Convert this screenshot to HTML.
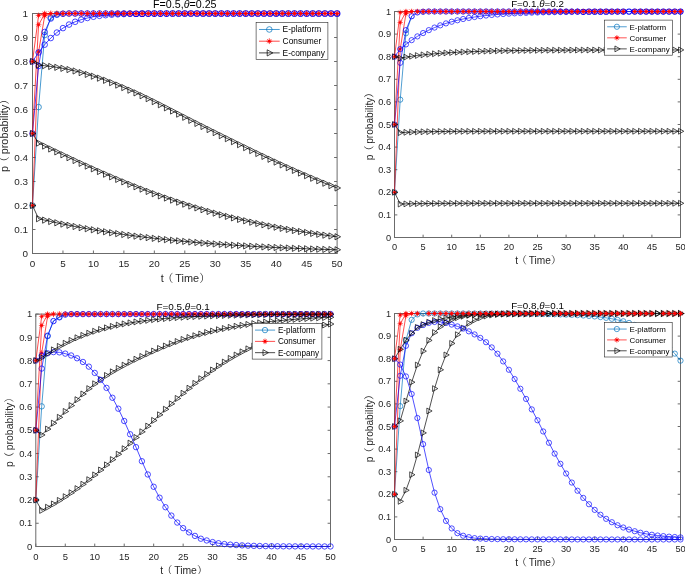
<!DOCTYPE html>
<html lang="en"><head><meta charset="utf-8"><title>Evolution figure</title>
<style>html,body{margin:0;padding:0;background:#fff}body{width:685px;height:574px;overflow:hidden}</style>
</head><body>
<svg width="685" height="574" viewBox="0 0 685 574" font-family='"Liberation Sans", "Noto Serif CJK SC", sans-serif' style="display:block;will-change:transform">
<rect width="685" height="574" fill="#fff"/>
<g fill="none" stroke="#6b6b6b" stroke-width="1">
<rect x="32.5" y="13.5" width="304.6" height="240"/>
<path d="M32.5 253.5v-3.0M32.5 13.5v3.0M62.96 253.5v-3.0M62.96 13.5v3.0M93.42 253.5v-3.0M93.42 13.5v3.0M123.88 253.5v-3.0M123.88 13.5v3.0M154.34 253.5v-3.0M154.34 13.5v3.0M184.8 253.5v-3.0M184.8 13.5v3.0M215.26 253.5v-3.0M215.26 13.5v3.0M245.72 253.5v-3.0M245.72 13.5v3.0M276.18 253.5v-3.0M276.18 13.5v3.0M306.64 253.5v-3.0M306.64 13.5v3.0M337.1 253.5v-3.0M337.1 13.5v3.0M32.5 253.5h3.0M337.1 253.5h-3.0M32.5 229.5h3.0M337.1 229.5h-3.0M32.5 205.5h3.0M337.1 205.5h-3.0M32.5 181.5h3.0M337.1 181.5h-3.0M32.5 157.5h3.0M337.1 157.5h-3.0M32.5 133.5h3.0M337.1 133.5h-3.0M32.5 109.5h3.0M337.1 109.5h-3.0M32.5 85.5h3.0M337.1 85.5h-3.0M32.5 61.5h3.0M337.1 61.5h-3.0M32.5 37.5h3.0M337.1 37.5h-3.0M32.5 13.5h3.0M337.1 13.5h-3.0"/>
</g>
<g font-size="9.9" fill="#262626">
<g text-anchor="middle">
<text x="32.5" y="267.3">0</text>
<text x="62.96" y="267.3">5</text>
<text x="93.42" y="267.3">10</text>
<text x="123.88" y="267.3">15</text>
<text x="154.34" y="267.3">20</text>
<text x="184.8" y="267.3">25</text>
<text x="215.26" y="267.3">30</text>
<text x="245.72" y="267.3">35</text>
<text x="276.18" y="267.3">40</text>
<text x="306.64" y="267.3">45</text>
<text x="337.1" y="267.3">50</text>
</g><g text-anchor="end">
<text x="28.1" y="256.8">0</text>
<text x="28.1" y="232.8">0.1</text>
<text x="28.1" y="208.8">0.2</text>
<text x="28.1" y="184.8">0.3</text>
<text x="28.1" y="160.8">0.4</text>
<text x="28.1" y="136.8">0.5</text>
<text x="28.1" y="112.8">0.6</text>
<text x="28.1" y="88.8">0.7</text>
<text x="28.1" y="64.8">0.8</text>
<text x="28.1" y="40.8">0.9</text>
<text x="28.1" y="16.8">1</text>
</g></g>
<g font-size="10.9" fill="#262626" text-anchor="middle">
<text x="185.4" y="282">t<tspan dx="-1.2">（</tspan><tspan dx="1.9">Time）</tspan></text>
<text transform="translate(8.4 132.9) rotate(-90)">p<tspan dx="-1.2">（</tspan><tspan dx="1.9">probability）</tspan></text>
</g>
<text x="184.8"  y="8.4" font-size="10.7" fill="#000" text-anchor="middle">F=0.5,<tspan font-style="italic">θ</tspan>=0.25</text>
<g fill="none" stroke="#0072bd"><path stroke-width="0.72" d="M32.5 205.5L38.59 107.1L44.68 35.1L50.78 17.58L56.87 14.22L62.96 13.5"/>
<g stroke-width="0.72"><circle cx="32.5" cy="205.5" r="2.8"/><circle cx="38.59" cy="107.1" r="2.8"/><circle cx="44.68" cy="35.1" r="2.8"/><circle cx="50.78" cy="17.58" r="2.8"/><circle cx="56.87" cy="14.22" r="2.8"/></g>
</g>
<g fill="none" stroke="#ff0000"><path stroke-width="0.72" d="M32.5 205.5L38.59 51.9L44.68 15.9L50.78 13.74"/>
<g stroke-width="0.58"><path d="M29.6 205.5H35.4M32.5 202.6V208.4M30.45 203.45L34.55 207.55M30.45 207.55L34.55 203.45"/><circle cx="32.5" cy="205.5" r="1.3" fill="#ff0000" stroke="none"/><path d="M35.69 51.9H41.49M38.59 49V54.8M36.54 49.85L40.64 53.95M36.54 53.95L40.64 49.85"/><circle cx="38.59" cy="51.9" r="1.3" fill="#ff0000" stroke="none"/><path d="M41.78 15.9H47.58M44.68 13V18.8M42.63 13.85L46.73 17.95M42.63 17.95L46.73 13.85"/><circle cx="44.68" cy="15.9" r="1.3" fill="#ff0000" stroke="none"/></g>
</g>
<g fill="none" stroke="#000000"><path stroke-width="0.72" d="M32.5 205.5L38.59 218.7L44.68 220.12L50.78 221.49L56.87 222.81L62.96 224.09L69.05 225.31L75.14 226.5L81.24 227.64L87.33 228.74L93.42 229.79L99.51 230.81L105.6 231.79L111.7 232.73L117.79 233.63L123.88 234.5L129.97 235.33L136.06 236.13L142.16 236.89L148.25 237.63L154.34 238.33L160.43 239.01L166.52 239.65L172.62 240.27L178.71 240.86L184.8 241.43L190.89 241.98L196.98 242.5L203.08 243L209.17 243.47L215.26 243.93L221.35 244.36L227.44 244.78L233.54 245.18L239.63 245.56L245.72 245.92L251.81 246.27L257.9 246.6L264 246.92L270.09 247.23L276.18 247.52L282.27 247.79L288.36 248.06L294.46 248.31L300.55 248.55L306.64 248.78L312.73 249L318.82 249.21L324.92 249.41L331.01 249.6L337.1 249.78"/>
<g stroke-width="0.72"><path d="M30.4 202.4L36 205.5L30.4 208.6Z"/><path d="M36.49 215.6L42.09 218.7L36.49 221.8Z"/><path d="M42.58 217.02L48.18 220.12L42.58 223.22Z"/><path d="M48.68 218.39L54.28 221.49L48.68 224.59Z"/><path d="M54.77 219.71L60.37 222.81L54.77 225.91Z"/><path d="M60.86 220.99L66.46 224.09L60.86 227.19Z"/><path d="M66.95 222.21L72.55 225.31L66.95 228.41Z"/><path d="M73.04 223.4L78.64 226.5L73.04 229.6Z"/><path d="M79.14 224.54L84.74 227.64L79.14 230.74Z"/><path d="M85.23 225.64L90.83 228.74L85.23 231.84Z"/><path d="M91.32 226.69L96.92 229.79L91.32 232.89Z"/><path d="M97.41 227.71L103.01 230.81L97.41 233.91Z"/><path d="M103.5 228.69L109.1 231.79L103.5 234.89Z"/><path d="M109.6 229.63L115.2 232.73L109.6 235.83Z"/><path d="M115.69 230.53L121.29 233.63L115.69 236.73Z"/><path d="M121.78 231.4L127.38 234.5L121.78 237.6Z"/><path d="M127.87 232.23L133.47 235.33L127.87 238.43Z"/><path d="M133.96 233.03L139.56 236.13L133.96 239.23Z"/><path d="M140.06 233.79L145.66 236.89L140.06 239.99Z"/><path d="M146.15 234.53L151.75 237.63L146.15 240.73Z"/><path d="M152.24 235.23L157.84 238.33L152.24 241.43Z"/><path d="M158.33 235.91L163.93 239.01L158.33 242.11Z"/><path d="M164.42 236.55L170.02 239.65L164.42 242.75Z"/><path d="M170.52 237.17L176.12 240.27L170.52 243.37Z"/><path d="M176.61 237.76L182.21 240.86L176.61 243.96Z"/><path d="M182.7 238.33L188.3 241.43L182.7 244.53Z"/><path d="M188.79 238.88L194.39 241.98L188.79 245.08Z"/><path d="M194.88 239.4L200.48 242.5L194.88 245.6Z"/><path d="M200.98 239.9L206.58 243L200.98 246.1Z"/><path d="M207.07 240.37L212.67 243.47L207.07 246.57Z"/><path d="M213.16 240.83L218.76 243.93L213.16 247.03Z"/><path d="M219.25 241.26L224.85 244.36L219.25 247.46Z"/><path d="M225.34 241.68L230.94 244.78L225.34 247.88Z"/><path d="M231.44 242.08L237.04 245.18L231.44 248.28Z"/><path d="M237.53 242.46L243.13 245.56L237.53 248.66Z"/><path d="M243.62 242.82L249.22 245.92L243.62 249.02Z"/><path d="M249.71 243.17L255.31 246.27L249.71 249.37Z"/><path d="M255.8 243.5L261.4 246.6L255.8 249.7Z"/><path d="M261.9 243.82L267.5 246.92L261.9 250.02Z"/><path d="M267.99 244.13L273.59 247.23L267.99 250.33Z"/><path d="M274.08 244.42L279.68 247.52L274.08 250.62Z"/><path d="M280.17 244.69L285.77 247.79L280.17 250.89Z"/><path d="M286.26 244.96L291.86 248.06L286.26 251.16Z"/><path d="M292.36 245.21L297.96 248.31L292.36 251.41Z"/><path d="M298.45 245.45L304.05 248.55L298.45 251.65Z"/><path d="M304.54 245.68L310.14 248.78L304.54 251.88Z"/><path d="M310.63 245.9L316.23 249L310.63 252.1Z"/><path d="M316.72 246.11L322.32 249.21L316.72 252.31Z"/><path d="M322.82 246.31L328.42 249.41L322.82 252.51Z"/><path d="M328.91 246.5L334.51 249.6L328.91 252.7Z"/><path d="M335 246.68L340.6 249.78L335 252.88Z"/></g>
</g>
<g fill="none" stroke="#0000ff"><path stroke-width="0.72" d="M32.5 133.5L38.59 66.06L44.68 31.98L50.78 18.54L56.87 14.7L62.96 13.74L69.05 13.5L75.14 13.5L81.24 13.5L87.33 13.5L93.42 13.5L99.51 13.5L105.6 13.5L111.7 13.5L117.79 13.5L123.88 13.5L129.97 13.5L136.06 13.5"/>
<g stroke-width="0.72"><circle cx="32.5" cy="133.5" r="2.8"/><circle cx="38.59" cy="66.06" r="2.8"/><circle cx="44.68" cy="31.98" r="2.8"/><circle cx="50.78" cy="18.54" r="2.8"/><circle cx="56.87" cy="14.7" r="2.8"/></g>
<g stroke-width="0.9"><circle cx="62.96" cy="13.74" r="2.8"/><circle cx="69.05" cy="13.5" r="2.8"/><circle cx="75.14" cy="13.5" r="2.8"/><circle cx="81.24" cy="13.5" r="2.8"/><circle cx="87.33" cy="13.5" r="2.8"/><circle cx="93.42" cy="13.5" r="2.8"/><circle cx="99.51" cy="13.5" r="2.8"/><circle cx="105.6" cy="13.5" r="2.8"/><circle cx="111.7" cy="13.5" r="2.8"/><circle cx="117.79" cy="13.5" r="2.8"/><circle cx="123.88" cy="13.5" r="2.8"/><circle cx="129.97" cy="13.5" r="2.8"/></g>
</g>
<g fill="none" stroke="#ff0000"><path stroke-width="0.72" d="M32.5 133.5L38.59 24.78L44.68 13.98L50.78 13.5"/>
<g stroke-width="0.58"><path d="M29.6 133.5H35.4M32.5 130.6V136.4M30.45 131.45L34.55 135.55M30.45 135.55L34.55 131.45"/><circle cx="32.5" cy="133.5" r="1.3" fill="#ff0000" stroke="none"/><path d="M35.69 24.78H41.49M38.59 21.88V27.68M36.54 22.73L40.64 26.83M36.54 26.83L40.64 22.73"/><circle cx="38.59" cy="24.78" r="1.3" fill="#ff0000" stroke="none"/><path d="M41.78 13.98H47.58M44.68 11.08V16.88M42.63 11.93L46.73 16.03M42.63 16.03L46.73 11.93"/><circle cx="44.68" cy="13.98" r="1.3" fill="#ff0000" stroke="none"/></g>
</g>
<g fill="none" stroke="#000000"><path stroke-width="0.72" d="M32.5 133.5L38.59 143.1L44.68 146.05L50.78 148.99L56.87 151.9L62.96 154.8L69.05 157.67L75.14 160.51L81.24 163.32L87.33 166.09L93.42 168.83L99.51 171.53L105.6 174.19L111.7 176.8L117.79 179.37L123.88 181.88L129.97 184.35L136.06 186.77L142.16 189.13L148.25 191.44L154.34 193.7L160.43 195.9L166.52 198.04L172.62 200.13L178.71 202.16L184.8 204.13L190.89 206.05L196.98 207.91L203.08 209.71L209.17 211.46L215.26 213.15L221.35 214.79L227.44 216.38L233.54 217.91L239.63 219.38L245.72 220.81L251.81 222.19L257.9 223.51L264 224.79L270.09 226.02L276.18 227.2L282.27 228.34L288.36 229.44L294.46 230.49L300.55 231.5L306.64 232.48L312.73 233.41L318.82 234.3L324.92 235.16L331.01 235.98L337.1 236.77"/>
<g stroke-width="0.72"><path d="M30.4 130.4L36 133.5L30.4 136.6Z"/><path d="M36.49 140L42.09 143.1L36.49 146.2Z"/><path d="M42.58 142.95L48.18 146.05L42.58 149.15Z"/><path d="M48.68 145.89L54.28 148.99L48.68 152.09Z"/><path d="M54.77 148.8L60.37 151.9L54.77 155Z"/><path d="M60.86 151.7L66.46 154.8L60.86 157.9Z"/><path d="M66.95 154.57L72.55 157.67L66.95 160.77Z"/><path d="M73.04 157.41L78.64 160.51L73.04 163.61Z"/><path d="M79.14 160.22L84.74 163.32L79.14 166.42Z"/><path d="M85.23 162.99L90.83 166.09L85.23 169.19Z"/><path d="M91.32 165.73L96.92 168.83L91.32 171.93Z"/><path d="M97.41 168.43L103.01 171.53L97.41 174.63Z"/><path d="M103.5 171.09L109.1 174.19L103.5 177.29Z"/><path d="M109.6 173.7L115.2 176.8L109.6 179.9Z"/><path d="M115.69 176.27L121.29 179.37L115.69 182.47Z"/><path d="M121.78 178.78L127.38 181.88L121.78 184.98Z"/><path d="M127.87 181.25L133.47 184.35L127.87 187.45Z"/><path d="M133.96 183.67L139.56 186.77L133.96 189.87Z"/><path d="M140.06 186.03L145.66 189.13L140.06 192.23Z"/><path d="M146.15 188.34L151.75 191.44L146.15 194.54Z"/><path d="M152.24 190.6L157.84 193.7L152.24 196.8Z"/><path d="M158.33 192.8L163.93 195.9L158.33 199Z"/><path d="M164.42 194.94L170.02 198.04L164.42 201.14Z"/><path d="M170.52 197.03L176.12 200.13L170.52 203.23Z"/><path d="M176.61 199.06L182.21 202.16L176.61 205.26Z"/><path d="M182.7 201.03L188.3 204.13L182.7 207.23Z"/><path d="M188.79 202.95L194.39 206.05L188.79 209.15Z"/><path d="M194.88 204.81L200.48 207.91L194.88 211.01Z"/><path d="M200.98 206.61L206.58 209.71L200.98 212.81Z"/><path d="M207.07 208.36L212.67 211.46L207.07 214.56Z"/><path d="M213.16 210.05L218.76 213.15L213.16 216.25Z"/><path d="M219.25 211.69L224.85 214.79L219.25 217.89Z"/><path d="M225.34 213.28L230.94 216.38L225.34 219.48Z"/><path d="M231.44 214.81L237.04 217.91L231.44 221.01Z"/><path d="M237.53 216.28L243.13 219.38L237.53 222.48Z"/><path d="M243.62 217.71L249.22 220.81L243.62 223.91Z"/><path d="M249.71 219.09L255.31 222.19L249.71 225.29Z"/><path d="M255.8 220.41L261.4 223.51L255.8 226.61Z"/><path d="M261.9 221.69L267.5 224.79L261.9 227.89Z"/><path d="M267.99 222.92L273.59 226.02L267.99 229.12Z"/><path d="M274.08 224.1L279.68 227.2L274.08 230.3Z"/><path d="M280.17 225.24L285.77 228.34L280.17 231.44Z"/><path d="M286.26 226.34L291.86 229.44L286.26 232.54Z"/><path d="M292.36 227.39L297.96 230.49L292.36 233.59Z"/><path d="M298.45 228.4L304.05 231.5L298.45 234.6Z"/><path d="M304.54 229.38L310.14 232.48L304.54 235.58Z"/><path d="M310.63 230.31L316.23 233.41L310.63 236.51Z"/><path d="M316.72 231.2L322.32 234.3L316.72 237.4Z"/><path d="M322.82 232.06L328.42 235.16L322.82 238.26Z"/><path d="M328.91 232.88L334.51 235.98L328.91 239.08Z"/><path d="M335 233.67L340.6 236.77L335 239.87Z"/></g>
</g>
<g fill="none" stroke="#0000ff"><path stroke-width="0.72" d="M32.5 61.5L38.59 52.49L44.68 44.67L50.78 38.05L56.87 32.57L62.96 28.11L69.05 24.56L75.14 21.78L81.24 19.63L87.33 17.99L93.42 16.76L99.51 15.84L105.6 15.17L111.7 14.68L117.79 14.32L123.88 14.07L129.97 13.89L136.06 13.77L142.16 13.68L148.25 13.62L154.34 13.58L160.43 13.55L166.52 13.54L172.62 13.52L178.71 13.51L184.8 13.51L190.89 13.51L196.98 13.5L203.08 13.5L209.17 13.5L215.26 13.5L221.35 13.5L227.44 13.5L233.54 13.5L239.63 13.5L245.72 13.5L251.81 13.5L257.9 13.5L264 13.5L270.09 13.5L276.18 13.5L282.27 13.5L288.36 13.5L294.46 13.5L300.55 13.5L306.64 13.5L312.73 13.5L318.82 13.5L324.92 13.5L331.01 13.5L337.1 13.5"/>
<g stroke-width="0.72"><circle cx="32.5" cy="61.5" r="2.8"/><circle cx="38.59" cy="52.49" r="2.8"/><circle cx="44.68" cy="44.67" r="2.8"/><circle cx="50.78" cy="38.05" r="2.8"/><circle cx="56.87" cy="32.57" r="2.8"/><circle cx="62.96" cy="28.11" r="2.8"/><circle cx="69.05" cy="24.56" r="2.8"/><circle cx="75.14" cy="21.78" r="2.8"/><circle cx="81.24" cy="19.63" r="2.8"/><circle cx="87.33" cy="17.99" r="2.8"/><circle cx="93.42" cy="16.76" r="2.8"/><circle cx="99.51" cy="15.84" r="2.8"/><circle cx="105.6" cy="15.17" r="2.8"/><circle cx="111.7" cy="14.68" r="2.8"/><circle cx="117.79" cy="14.32" r="2.8"/><circle cx="123.88" cy="14.07" r="2.8"/><circle cx="129.97" cy="13.89" r="2.8"/></g>
<g stroke-width="1.08"><circle cx="136.06" cy="13.77" r="2.8"/><circle cx="142.16" cy="13.68" r="2.8"/><circle cx="148.25" cy="13.62" r="2.8"/><circle cx="154.34" cy="13.58" r="2.8"/><circle cx="160.43" cy="13.55" r="2.8"/><circle cx="166.52" cy="13.54" r="2.8"/><circle cx="172.62" cy="13.52" r="2.8"/><circle cx="178.71" cy="13.51" r="2.8"/><circle cx="184.8" cy="13.51" r="2.8"/><circle cx="190.89" cy="13.51" r="2.8"/><circle cx="196.98" cy="13.5" r="2.8"/><circle cx="203.08" cy="13.5" r="2.8"/><circle cx="209.17" cy="13.5" r="2.8"/><circle cx="215.26" cy="13.5" r="2.8"/><circle cx="221.35" cy="13.5" r="2.8"/><circle cx="227.44" cy="13.5" r="2.8"/><circle cx="233.54" cy="13.5" r="2.8"/><circle cx="239.63" cy="13.5" r="2.8"/><circle cx="245.72" cy="13.5" r="2.8"/><circle cx="251.81" cy="13.5" r="2.8"/><circle cx="257.9" cy="13.5" r="2.8"/><circle cx="264" cy="13.5" r="2.8"/><circle cx="270.09" cy="13.5" r="2.8"/><circle cx="276.18" cy="13.5" r="2.8"/><circle cx="282.27" cy="13.5" r="2.8"/><circle cx="288.36" cy="13.5" r="2.8"/><circle cx="294.46" cy="13.5" r="2.8"/><circle cx="300.55" cy="13.5" r="2.8"/><circle cx="306.64" cy="13.5" r="2.8"/><circle cx="312.73" cy="13.5" r="2.8"/><circle cx="318.82" cy="13.5" r="2.8"/><circle cx="324.92" cy="13.5" r="2.8"/><circle cx="331.01" cy="13.5" r="2.8"/><circle cx="337.1" cy="13.5" r="2.8"/></g>
</g>
<g fill="none" stroke="#ff0000"><path stroke-width="0.72" d="M32.5 61.5L38.59 15.42L44.68 13.5"/>
<g stroke-width="0.58"><path d="M29.6 61.5H35.4M32.5 58.6V64.4M30.45 59.45L34.55 63.55M30.45 63.55L34.55 59.45"/><circle cx="32.5" cy="61.5" r="1.3" fill="#ff0000" stroke="none"/><path d="M35.69 15.42H41.49M38.59 12.52V18.32M36.54 13.37L40.64 17.47M36.54 17.47L40.64 13.37"/><circle cx="38.59" cy="15.42" r="1.3" fill="#ff0000" stroke="none"/><path d="M41.78 13.5H47.58M44.68 10.6V16.4M42.63 11.45L46.73 15.55M42.63 15.55L46.73 11.45"/><circle cx="44.68" cy="13.5" r="1.3" fill="#ff0000" stroke="none"/></g>
<g stroke-width="0.87"><path d="M47.88 13.5H53.68M50.78 10.6V16.4M48.73 11.45L52.83 15.55M48.73 15.55L52.83 11.45"/><circle cx="50.78" cy="13.5" r="1.3" fill="#ff0000" stroke="none"/><path d="M53.97 13.5H59.77M56.87 10.6V16.4M54.82 11.45L58.92 15.55M54.82 15.55L58.92 11.45"/><circle cx="56.87" cy="13.5" r="1.3" fill="#ff0000" stroke="none"/><path d="M60.06 13.5H65.86M62.96 10.6V16.4M60.91 11.45L65.01 15.55M60.91 15.55L65.01 11.45"/><circle cx="62.96" cy="13.5" r="1.3" fill="#ff0000" stroke="none"/><path d="M66.15 13.5H71.95M69.05 10.6V16.4M67 11.45L71.1 15.55M67 15.55L71.1 11.45"/><circle cx="69.05" cy="13.5" r="1.3" fill="#ff0000" stroke="none"/><path d="M72.24 13.5H78.04M75.14 10.6V16.4M73.09 11.45L77.19 15.55M73.09 15.55L77.19 11.45"/><circle cx="75.14" cy="13.5" r="1.3" fill="#ff0000" stroke="none"/><path d="M78.34 13.5H84.14M81.24 10.6V16.4M79.19 11.45L83.29 15.55M79.19 15.55L83.29 11.45"/><circle cx="81.24" cy="13.5" r="1.3" fill="#ff0000" stroke="none"/><path d="M84.43 13.5H90.23M87.33 10.6V16.4M85.28 11.45L89.38 15.55M85.28 15.55L89.38 11.45"/><circle cx="87.33" cy="13.5" r="1.3" fill="#ff0000" stroke="none"/><path d="M90.52 13.5H96.32M93.42 10.6V16.4M91.37 11.45L95.47 15.55M91.37 15.55L95.47 11.45"/><circle cx="93.42" cy="13.5" r="1.3" fill="#ff0000" stroke="none"/><path d="M96.61 13.5H102.41M99.51 10.6V16.4M97.46 11.45L101.56 15.55M97.46 15.55L101.56 11.45"/><circle cx="99.51" cy="13.5" r="1.3" fill="#ff0000" stroke="none"/><path d="M102.7 13.5H108.5M105.6 10.6V16.4M103.55 11.45L107.65 15.55M103.55 15.55L107.65 11.45"/><circle cx="105.6" cy="13.5" r="1.3" fill="#ff0000" stroke="none"/><path d="M108.8 13.5H114.6M111.7 10.6V16.4M109.65 11.45L113.75 15.55M109.65 15.55L113.75 11.45"/><circle cx="111.7" cy="13.5" r="1.3" fill="#ff0000" stroke="none"/><path d="M114.89 13.5H120.69M117.79 10.6V16.4M115.74 11.45L119.84 15.55M115.74 15.55L119.84 11.45"/><circle cx="117.79" cy="13.5" r="1.3" fill="#ff0000" stroke="none"/><path d="M120.98 13.5H126.78M123.88 10.6V16.4M121.83 11.45L125.93 15.55M121.83 15.55L125.93 11.45"/><circle cx="123.88" cy="13.5" r="1.3" fill="#ff0000" stroke="none"/><path d="M127.07 13.5H132.87M129.97 10.6V16.4M127.92 11.45L132.02 15.55M127.92 15.55L132.02 11.45"/><circle cx="129.97" cy="13.5" r="1.3" fill="#ff0000" stroke="none"/><path d="M133.16 13.5H138.96M136.06 10.6V16.4M134.01 11.45L138.11 15.55M134.01 15.55L138.11 11.45"/><circle cx="136.06" cy="13.5" r="1.3" fill="#ff0000" stroke="none"/><path d="M139.26 13.5H145.06M142.16 10.6V16.4M140.11 11.45L144.21 15.55M140.11 15.55L144.21 11.45"/><circle cx="142.16" cy="13.5" r="1.3" fill="#ff0000" stroke="none"/><path d="M145.35 13.5H151.15M148.25 10.6V16.4M146.2 11.45L150.3 15.55M146.2 15.55L150.3 11.45"/><circle cx="148.25" cy="13.5" r="1.3" fill="#ff0000" stroke="none"/><path d="M151.44 13.5H157.24M154.34 10.6V16.4M152.29 11.45L156.39 15.55M152.29 15.55L156.39 11.45"/><circle cx="154.34" cy="13.5" r="1.3" fill="#ff0000" stroke="none"/><path d="M157.53 13.5H163.33M160.43 10.6V16.4M158.38 11.45L162.48 15.55M158.38 15.55L162.48 11.45"/><circle cx="160.43" cy="13.5" r="1.3" fill="#ff0000" stroke="none"/><path d="M163.62 13.5H169.42M166.52 10.6V16.4M164.47 11.45L168.57 15.55M164.47 15.55L168.57 11.45"/><circle cx="166.52" cy="13.5" r="1.3" fill="#ff0000" stroke="none"/><path d="M169.72 13.5H175.52M172.62 10.6V16.4M170.57 11.45L174.67 15.55M170.57 15.55L174.67 11.45"/><circle cx="172.62" cy="13.5" r="1.3" fill="#ff0000" stroke="none"/><path d="M175.81 13.5H181.61M178.71 10.6V16.4M176.66 11.45L180.76 15.55M176.66 15.55L180.76 11.45"/><circle cx="178.71" cy="13.5" r="1.3" fill="#ff0000" stroke="none"/><path d="M181.9 13.5H187.7M184.8 10.6V16.4M182.75 11.45L186.85 15.55M182.75 15.55L186.85 11.45"/><circle cx="184.8" cy="13.5" r="1.3" fill="#ff0000" stroke="none"/><path d="M187.99 13.5H193.79M190.89 10.6V16.4M188.84 11.45L192.94 15.55M188.84 15.55L192.94 11.45"/><circle cx="190.89" cy="13.5" r="1.3" fill="#ff0000" stroke="none"/><path d="M194.08 13.5H199.88M196.98 10.6V16.4M194.93 11.45L199.03 15.55M194.93 15.55L199.03 11.45"/><circle cx="196.98" cy="13.5" r="1.3" fill="#ff0000" stroke="none"/><path d="M200.18 13.5H205.98M203.08 10.6V16.4M201.03 11.45L205.13 15.55M201.03 15.55L205.13 11.45"/><circle cx="203.08" cy="13.5" r="1.3" fill="#ff0000" stroke="none"/><path d="M206.27 13.5H212.07M209.17 10.6V16.4M207.12 11.45L211.22 15.55M207.12 15.55L211.22 11.45"/><circle cx="209.17" cy="13.5" r="1.3" fill="#ff0000" stroke="none"/><path d="M212.36 13.5H218.16M215.26 10.6V16.4M213.21 11.45L217.31 15.55M213.21 15.55L217.31 11.45"/><circle cx="215.26" cy="13.5" r="1.3" fill="#ff0000" stroke="none"/><path d="M218.45 13.5H224.25M221.35 10.6V16.4M219.3 11.45L223.4 15.55M219.3 15.55L223.4 11.45"/><circle cx="221.35" cy="13.5" r="1.3" fill="#ff0000" stroke="none"/><path d="M224.54 13.5H230.34M227.44 10.6V16.4M225.39 11.45L229.49 15.55M225.39 15.55L229.49 11.45"/><circle cx="227.44" cy="13.5" r="1.3" fill="#ff0000" stroke="none"/><path d="M230.64 13.5H236.44M233.54 10.6V16.4M231.49 11.45L235.59 15.55M231.49 15.55L235.59 11.45"/><circle cx="233.54" cy="13.5" r="1.3" fill="#ff0000" stroke="none"/><path d="M236.73 13.5H242.53M239.63 10.6V16.4M237.58 11.45L241.68 15.55M237.58 15.55L241.68 11.45"/><circle cx="239.63" cy="13.5" r="1.3" fill="#ff0000" stroke="none"/><path d="M242.82 13.5H248.62M245.72 10.6V16.4M243.67 11.45L247.77 15.55M243.67 15.55L247.77 11.45"/><circle cx="245.72" cy="13.5" r="1.3" fill="#ff0000" stroke="none"/><path d="M248.91 13.5H254.71M251.81 10.6V16.4M249.76 11.45L253.86 15.55M249.76 15.55L253.86 11.45"/><circle cx="251.81" cy="13.5" r="1.3" fill="#ff0000" stroke="none"/><path d="M255 13.5H260.8M257.9 10.6V16.4M255.85 11.45L259.95 15.55M255.85 15.55L259.95 11.45"/><circle cx="257.9" cy="13.5" r="1.3" fill="#ff0000" stroke="none"/><path d="M261.1 13.5H266.9M264 10.6V16.4M261.95 11.45L266.05 15.55M261.95 15.55L266.05 11.45"/><circle cx="264" cy="13.5" r="1.3" fill="#ff0000" stroke="none"/><path d="M267.19 13.5H272.99M270.09 10.6V16.4M268.04 11.45L272.14 15.55M268.04 15.55L272.14 11.45"/><circle cx="270.09" cy="13.5" r="1.3" fill="#ff0000" stroke="none"/><path d="M273.28 13.5H279.08M276.18 10.6V16.4M274.13 11.45L278.23 15.55M274.13 15.55L278.23 11.45"/><circle cx="276.18" cy="13.5" r="1.3" fill="#ff0000" stroke="none"/><path d="M279.37 13.5H285.17M282.27 10.6V16.4M280.22 11.45L284.32 15.55M280.22 15.55L284.32 11.45"/><circle cx="282.27" cy="13.5" r="1.3" fill="#ff0000" stroke="none"/><path d="M285.46 13.5H291.26M288.36 10.6V16.4M286.31 11.45L290.41 15.55M286.31 15.55L290.41 11.45"/><circle cx="288.36" cy="13.5" r="1.3" fill="#ff0000" stroke="none"/><path d="M291.56 13.5H297.36M294.46 10.6V16.4M292.41 11.45L296.51 15.55M292.41 15.55L296.51 11.45"/><circle cx="294.46" cy="13.5" r="1.3" fill="#ff0000" stroke="none"/><path d="M297.65 13.5H303.45M300.55 10.6V16.4M298.5 11.45L302.6 15.55M298.5 15.55L302.6 11.45"/><circle cx="300.55" cy="13.5" r="1.3" fill="#ff0000" stroke="none"/><path d="M303.74 13.5H309.54M306.64 10.6V16.4M304.59 11.45L308.69 15.55M304.59 15.55L308.69 11.45"/><circle cx="306.64" cy="13.5" r="1.3" fill="#ff0000" stroke="none"/><path d="M309.83 13.5H315.63M312.73 10.6V16.4M310.68 11.45L314.78 15.55M310.68 15.55L314.78 11.45"/><circle cx="312.73" cy="13.5" r="1.3" fill="#ff0000" stroke="none"/><path d="M315.92 13.5H321.72M318.82 10.6V16.4M316.77 11.45L320.87 15.55M316.77 15.55L320.87 11.45"/><circle cx="318.82" cy="13.5" r="1.3" fill="#ff0000" stroke="none"/><path d="M322.02 13.5H327.82M324.92 10.6V16.4M322.87 11.45L326.97 15.55M322.87 15.55L326.97 11.45"/><circle cx="324.92" cy="13.5" r="1.3" fill="#ff0000" stroke="none"/><path d="M328.11 13.5H333.91M331.01 10.6V16.4M328.96 11.45L333.06 15.55M328.96 15.55L333.06 11.45"/><circle cx="331.01" cy="13.5" r="1.3" fill="#ff0000" stroke="none"/><path d="M334.2 13.5H340M337.1 10.6V16.4M335.05 11.45L339.15 15.55M335.05 15.55L339.15 11.45"/><circle cx="337.1" cy="13.5" r="1.3" fill="#ff0000" stroke="none"/></g>
</g>
<g fill="none" stroke="#000000"><path stroke-width="0.72" d="M32.5 61.5L38.59 65.1L44.68 65.7L50.78 66.46L56.87 67.35L62.96 68.36L69.05 69.56L75.14 70.99L81.24 72.61L87.33 74.37L93.42 76.21L99.51 78.18L105.6 80.34L111.7 82.65L117.79 85.08L123.88 87.59L129.97 90.18L136.06 92.9L142.16 95.72L148.25 98.65L154.34 101.65L160.43 104.72L166.52 107.84L172.62 110.98L178.71 114.12L184.8 117.25L190.89 120.35L196.98 123.42L203.08 126.48L209.17 129.54L215.26 132.59L221.35 135.62L227.44 138.64L233.54 141.65L239.63 144.64L245.72 147.61L251.81 150.56L257.9 153.49L264 156.39L270.09 159.26L276.18 162.1L282.27 164.9L288.36 167.65L294.46 170.37L300.55 173.04L306.64 175.66L312.73 178.23L318.82 180.75L324.92 183.21L331.01 185.62L337.1 187.98"/>
<g stroke-width="0.72"><path d="M30.4 58.4L36 61.5L30.4 64.6Z"/><path d="M36.49 62L42.09 65.1L36.49 68.2Z"/><path d="M42.58 62.6L48.18 65.7L42.58 68.8Z"/><path d="M48.68 63.36L54.28 66.46L48.68 69.56Z"/><path d="M54.77 64.25L60.37 67.35L54.77 70.45Z"/><path d="M60.86 65.26L66.46 68.36L60.86 71.46Z"/><path d="M66.95 66.46L72.55 69.56L66.95 72.66Z"/><path d="M73.04 67.89L78.64 70.99L73.04 74.09Z"/><path d="M79.14 69.51L84.74 72.61L79.14 75.71Z"/><path d="M85.23 71.27L90.83 74.37L85.23 77.47Z"/><path d="M91.32 73.11L96.92 76.21L91.32 79.31Z"/><path d="M97.41 75.08L103.01 78.18L97.41 81.28Z"/><path d="M103.5 77.24L109.1 80.34L103.5 83.44Z"/><path d="M109.6 79.55L115.2 82.65L109.6 85.75Z"/><path d="M115.69 81.98L121.29 85.08L115.69 88.18Z"/><path d="M121.78 84.49L127.38 87.59L121.78 90.69Z"/><path d="M127.87 87.08L133.47 90.18L127.87 93.28Z"/><path d="M133.96 89.8L139.56 92.9L133.96 96Z"/><path d="M140.06 92.62L145.66 95.72L140.06 98.82Z"/><path d="M146.15 95.55L151.75 98.65L146.15 101.75Z"/><path d="M152.24 98.55L157.84 101.65L152.24 104.75Z"/><path d="M158.33 101.62L163.93 104.72L158.33 107.82Z"/><path d="M164.42 104.74L170.02 107.84L164.42 110.94Z"/><path d="M170.52 107.88L176.12 110.98L170.52 114.08Z"/><path d="M176.61 111.02L182.21 114.12L176.61 117.22Z"/><path d="M182.7 114.15L188.3 117.25L182.7 120.35Z"/><path d="M188.79 117.25L194.39 120.35L188.79 123.45Z"/><path d="M194.88 120.32L200.48 123.42L194.88 126.52Z"/><path d="M200.98 123.38L206.58 126.48L200.98 129.58Z"/><path d="M207.07 126.44L212.67 129.54L207.07 132.64Z"/><path d="M213.16 129.49L218.76 132.59L213.16 135.69Z"/><path d="M219.25 132.52L224.85 135.62L219.25 138.72Z"/><path d="M225.34 135.54L230.94 138.64L225.34 141.74Z"/><path d="M231.44 138.55L237.04 141.65L231.44 144.75Z"/><path d="M237.53 141.54L243.13 144.64L237.53 147.74Z"/><path d="M243.62 144.51L249.22 147.61L243.62 150.71Z"/><path d="M249.71 147.46L255.31 150.56L249.71 153.66Z"/><path d="M255.8 150.39L261.4 153.49L255.8 156.59Z"/><path d="M261.9 153.29L267.5 156.39L261.9 159.49Z"/><path d="M267.99 156.16L273.59 159.26L267.99 162.36Z"/><path d="M274.08 159L279.68 162.1L274.08 165.2Z"/><path d="M280.17 161.8L285.77 164.9L280.17 168Z"/><path d="M286.26 164.55L291.86 167.65L286.26 170.75Z"/><path d="M292.36 167.27L297.96 170.37L292.36 173.47Z"/><path d="M298.45 169.94L304.05 173.04L298.45 176.14Z"/><path d="M304.54 172.56L310.14 175.66L304.54 178.76Z"/><path d="M310.63 175.13L316.23 178.23L310.63 181.33Z"/><path d="M316.72 177.65L322.32 180.75L316.72 183.85Z"/><path d="M322.82 180.11L328.42 183.21L322.82 186.31Z"/><path d="M328.91 182.52L334.51 185.62L328.91 188.72Z"/><path d="M335 184.88L340.6 187.98L335 191.08Z"/></g>
</g>
<rect x="256.1" y="22.4" width="71.8" height="37.2" fill="#fff" stroke="#262626" stroke-width="0.6"/>
<g fill="none" stroke="#0072bd" stroke-width="0.72"><path d="M259 29.47H279.7"/><circle cx="269.3" cy="29.47" r="2.8"/></g>
<text x="282.6" y="32.47" font-size="8.4" fill="#000">E-platform</text>
<g fill="none" stroke="#ff0000" stroke-width="0.72"><path d="M259 41.19H279.7"/><path d="M266.4 41.19H272.2M269.3 38.29V44.09M267.25 39.14L271.35 43.24M267.25 43.24L271.35 39.14"/><circle cx="269.3" cy="41.19" r="1.3" fill="#ff0000" stroke="none"/></g>
<text x="282.6" y="44.19" font-size="8.4" fill="#000">Consumer</text>
<g fill="none" stroke="#000000" stroke-width="0.72"><path d="M259 52.9H279.7"/><path d="M267.2 49.8L272.8 52.9L267.2 56Z"/></g>
<text x="282.6" y="55.9" font-size="8.4" fill="#000">E-company</text>
<g fill="none" stroke="#6b6b6b" stroke-width="1">
<rect x="394.5" y="11.5" width="286" height="226"/>
<path d="M394.5 237.5v-2.82M394.5 11.5v2.82M423.1 237.5v-2.82M423.1 11.5v2.82M451.7 237.5v-2.82M451.7 11.5v2.82M480.3 237.5v-2.82M480.3 11.5v2.82M508.9 237.5v-2.82M508.9 11.5v2.82M537.5 237.5v-2.82M537.5 11.5v2.82M566.1 237.5v-2.82M566.1 11.5v2.82M594.7 237.5v-2.82M594.7 11.5v2.82M623.3 237.5v-2.82M623.3 11.5v2.82M651.9 237.5v-2.82M651.9 11.5v2.82M680.5 237.5v-2.82M680.5 11.5v2.82M394.5 237.5h2.82M680.5 237.5h-2.82M394.5 214.9h2.82M680.5 214.9h-2.82M394.5 192.3h2.82M680.5 192.3h-2.82M394.5 169.7h2.82M680.5 169.7h-2.82M394.5 147.1h2.82M680.5 147.1h-2.82M394.5 124.5h2.82M680.5 124.5h-2.82M394.5 101.9h2.82M680.5 101.9h-2.82M394.5 79.3h2.82M680.5 79.3h-2.82M394.5 56.7h2.82M680.5 56.7h-2.82M394.5 34.1h2.82M680.5 34.1h-2.82M394.5 11.5h2.82M680.5 11.5h-2.82"/>
</g>
<g font-size="9.21" fill="#262626">
<g text-anchor="middle">
<text x="394.5" y="250.47">0</text>
<text x="423.1" y="250.47">5</text>
<text x="451.7" y="250.47">10</text>
<text x="480.3" y="250.47">15</text>
<text x="508.9" y="250.47">20</text>
<text x="537.5" y="250.47">25</text>
<text x="566.1" y="250.47">30</text>
<text x="594.7" y="250.47">35</text>
<text x="623.3" y="250.47">40</text>
<text x="651.9" y="250.47">45</text>
<text x="680.5" y="250.47">50</text>
</g><g text-anchor="end">
<text x="391.06" y="240.6">0</text>
<text x="391.06" y="218">0.1</text>
<text x="391.06" y="195.4">0.2</text>
<text x="391.06" y="172.8">0.3</text>
<text x="391.06" y="150.2">0.4</text>
<text x="391.06" y="127.6">0.5</text>
<text x="391.06" y="105">0.6</text>
<text x="391.06" y="82.4">0.7</text>
<text x="391.06" y="59.8">0.8</text>
<text x="391.06" y="37.2">0.9</text>
<text x="391.06" y="14.6">1</text>
</g></g>
<g font-size="10.14" fill="#262626" text-anchor="middle">
<text x="538.1" y="264.29">t<tspan dx="-1.13">（</tspan><tspan dx="1.79">Time）</tspan></text>
<text transform="translate(372.55 123.9) rotate(-90)">p<tspan dx="-1.13">（</tspan><tspan dx="1.79">probability）</tspan></text>
</g>
<text x="537.5"  y="6.89" font-size="9.8" fill="#000" text-anchor="middle">F=0.1,<tspan font-style="italic">θ</tspan>=0.2</text>
<g fill="none" stroke="#0072bd"><path stroke-width="0.68" d="M394.5 192.3L400.22 99.64L405.94 33.29L411.66 16.25"/>
<g stroke-width="0.68"><circle cx="394.5" cy="192.3" r="2.63"/><circle cx="400.22" cy="99.64" r="2.63"/><circle cx="405.94" cy="33.29" r="2.63"/></g>
</g>
<g fill="none" stroke="#ff0000"><path stroke-width="0.68" d="M394.5 192.3L400.22 49.02L405.94 13.76L411.66 11.73"/>
<g stroke-width="0.55"><path d="M391.77 192.3H397.23M394.5 189.57V195.03M392.57 190.37L396.43 194.23M392.57 194.23L396.43 190.37"/><circle cx="394.5" cy="192.3" r="1.22" fill="#ff0000" stroke="none"/><path d="M397.49 49.02H402.95M400.22 46.29V51.74M398.29 47.09L402.15 50.94M398.29 50.94L402.15 47.09"/><circle cx="400.22" cy="49.02" r="1.22" fill="#ff0000" stroke="none"/><path d="M403.21 13.76H408.67M405.94 11.03V16.49M404.01 11.83L407.87 15.69M404.01 15.69L407.87 11.83"/><circle cx="405.94" cy="13.76" r="1.22" fill="#ff0000" stroke="none"/></g>
</g>
<g fill="none" stroke="#000000"><path stroke-width="0.68" d="M394.5 192.3L400.22 204.05L405.94 203.88L411.66 203.75L417.38 203.65L423.1 203.57L428.82 203.5L434.54 203.46L440.26 203.42L445.98 203.39L451.7 203.36L457.42 203.35L463.14 203.33L468.86 203.32L474.58 203.31L480.3 203.31L486.02 203.3L491.74 203.3L497.46 203.29L503.18 203.29L508.9 203.29L514.62 203.29L520.34 203.29L526.06 203.29L531.78 203.29L537.5 203.29L543.22 203.29L548.94 203.28L554.66 203.28L560.38 203.28L566.1 203.28L571.82 203.28L577.54 203.28L583.26 203.28L588.98 203.28L594.7 203.28L600.42 203.28L606.14 203.28L611.86 203.28L617.58 203.28L623.3 203.28L629.02 203.28L634.74 203.28L640.46 203.28L646.18 203.28L651.9 203.28L657.62 203.28L663.34 203.28L669.06 203.28L674.78 203.28L680.5 203.28"/>
<g stroke-width="0.68"><path d="M392.53 189.39L397.79 192.3L392.53 195.21Z"/><path d="M398.25 201.14L403.51 204.05L398.25 206.97Z"/><path d="M403.97 200.97L409.23 203.88L403.97 206.8Z"/><path d="M409.69 200.84L414.95 203.75L409.69 206.66Z"/><path d="M415.41 200.73L420.67 203.65L415.41 206.56Z"/><path d="M421.13 200.65L426.39 203.57L421.13 206.48Z"/><path d="M426.85 200.59L432.11 203.5L426.85 206.42Z"/><path d="M432.57 200.54L437.83 203.46L432.57 206.37Z"/><path d="M438.29 200.5L443.55 203.42L438.29 206.33Z"/><path d="M444.01 200.47L449.27 203.39L444.01 206.3Z"/><path d="M449.73 200.45L454.99 203.36L449.73 206.28Z"/><path d="M455.45 200.43L460.71 203.35L455.45 206.26Z"/><path d="M461.17 200.42L466.43 203.33L461.17 206.25Z"/><path d="M466.89 200.41L472.15 203.32L466.89 206.24Z"/><path d="M472.61 200.4L477.87 203.31L472.61 206.23Z"/><path d="M478.33 200.39L483.59 203.31L478.33 206.22Z"/><path d="M484.05 200.39L489.31 203.3L484.05 206.22Z"/><path d="M489.77 200.38L495.03 203.3L489.77 206.21Z"/><path d="M495.49 200.38L500.75 203.29L495.49 206.21Z"/><path d="M501.21 200.38L506.47 203.29L501.21 206.21Z"/><path d="M506.93 200.38L512.19 203.29L506.93 206.2Z"/><path d="M512.65 200.37L517.91 203.29L512.65 206.2Z"/><path d="M518.37 200.37L523.63 203.29L518.37 206.2Z"/><path d="M524.09 200.37L529.35 203.29L524.09 206.2Z"/><path d="M529.81 200.37L535.07 203.29L529.81 206.2Z"/><path d="M535.53 200.37L540.79 203.29L535.53 206.2Z"/><path d="M541.25 200.37L546.51 203.29L541.25 206.2Z"/><path d="M546.97 200.37L552.23 203.28L546.97 206.2Z"/><path d="M552.69 200.37L557.95 203.28L552.69 206.2Z"/><path d="M558.41 200.37L563.67 203.28L558.41 206.2Z"/><path d="M564.13 200.37L569.39 203.28L564.13 206.2Z"/><path d="M569.85 200.37L575.11 203.28L569.85 206.2Z"/><path d="M575.57 200.37L580.83 203.28L575.57 206.2Z"/><path d="M581.29 200.37L586.55 203.28L581.29 206.2Z"/><path d="M587.01 200.37L592.27 203.28L587.01 206.2Z"/><path d="M592.73 200.37L597.99 203.28L592.73 206.2Z"/><path d="M598.45 200.37L603.71 203.28L598.45 206.2Z"/><path d="M604.17 200.37L609.43 203.28L604.17 206.2Z"/><path d="M609.89 200.37L615.15 203.28L609.89 206.2Z"/><path d="M615.61 200.37L620.87 203.28L615.61 206.2Z"/><path d="M621.33 200.37L626.59 203.28L621.33 206.2Z"/><path d="M627.05 200.37L632.31 203.28L627.05 206.2Z"/><path d="M632.77 200.37L638.03 203.28L632.77 206.2Z"/><path d="M638.49 200.37L643.75 203.28L638.49 206.2Z"/><path d="M644.21 200.37L649.47 203.28L644.21 206.2Z"/><path d="M649.93 200.37L655.19 203.28L649.93 206.2Z"/><path d="M655.65 200.37L660.91 203.28L655.65 206.2Z"/><path d="M661.37 200.37L666.63 203.28L661.37 206.2Z"/><path d="M667.09 200.37L672.35 203.28L667.09 206.2Z"/><path d="M672.81 200.37L678.07 203.28L672.81 206.2Z"/><path d="M678.53 200.37L683.79 203.28L678.53 206.2Z"/></g>
</g>
<g fill="none" stroke="#0000ff"><path stroke-width="0.68" d="M394.5 124.5L400.22 62.8L405.94 30.12L411.66 16.25L417.38 12.4L423.1 11.73L428.82 11.5L434.54 11.5L440.26 11.5L445.98 11.5L451.7 11.5L457.42 11.5L463.14 11.5L468.86 11.5L474.58 11.5L480.3 11.5L486.02 11.5L491.74 11.5L497.46 11.5L503.18 11.5L508.9 11.5L514.62 11.5L520.34 11.5L526.06 11.5L531.78 11.5L537.5 11.5L543.22 11.5L548.94 11.5L554.66 11.5L560.38 11.5L566.1 11.5L571.82 11.5L577.54 11.5L583.26 11.5"/>
<g stroke-width="0.68"><circle cx="394.5" cy="124.5" r="2.63"/><circle cx="400.22" cy="62.8" r="2.63"/><circle cx="405.94" cy="30.12" r="2.63"/></g>
<g stroke-width="0.85"><circle cx="411.66" cy="16.25" r="2.63"/><circle cx="417.38" cy="12.4" r="2.63"/><circle cx="423.1" cy="11.73" r="2.63"/><circle cx="428.82" cy="11.5" r="2.63"/><circle cx="434.54" cy="11.5" r="2.63"/><circle cx="440.26" cy="11.5" r="2.63"/><circle cx="445.98" cy="11.5" r="2.63"/><circle cx="451.7" cy="11.5" r="2.63"/><circle cx="457.42" cy="11.5" r="2.63"/><circle cx="463.14" cy="11.5" r="2.63"/><circle cx="468.86" cy="11.5" r="2.63"/><circle cx="474.58" cy="11.5" r="2.63"/><circle cx="480.3" cy="11.5" r="2.63"/><circle cx="486.02" cy="11.5" r="2.63"/><circle cx="491.74" cy="11.5" r="2.63"/><circle cx="497.46" cy="11.5" r="2.63"/><circle cx="503.18" cy="11.5" r="2.63"/><circle cx="508.9" cy="11.5" r="2.63"/><circle cx="514.62" cy="11.5" r="2.63"/><circle cx="520.34" cy="11.5" r="2.63"/><circle cx="526.06" cy="11.5" r="2.63"/><circle cx="531.78" cy="11.5" r="2.63"/><circle cx="537.5" cy="11.5" r="2.63"/><circle cx="543.22" cy="11.5" r="2.63"/><circle cx="548.94" cy="11.5" r="2.63"/><circle cx="554.66" cy="11.5" r="2.63"/><circle cx="560.38" cy="11.5" r="2.63"/><circle cx="566.1" cy="11.5" r="2.63"/><circle cx="571.82" cy="11.5" r="2.63"/><circle cx="577.54" cy="11.5" r="2.63"/></g>
</g>
<g fill="none" stroke="#ff0000"><path stroke-width="0.68" d="M394.5 124.5L400.22 22.57L405.94 11.95L411.66 11.5"/>
<g stroke-width="0.55"><path d="M391.77 124.5H397.23M394.5 121.77V127.23M392.57 122.57L396.43 126.43M392.57 126.43L396.43 122.57"/><circle cx="394.5" cy="124.5" r="1.22" fill="#ff0000" stroke="none"/><path d="M397.49 22.57H402.95M400.22 19.85V25.3M398.29 20.65L402.15 24.5M398.29 24.5L402.15 20.65"/><circle cx="400.22" cy="22.57" r="1.22" fill="#ff0000" stroke="none"/><path d="M403.21 11.95H408.67M405.94 9.23V14.68M404.01 10.02L407.87 13.88M404.01 13.88L407.87 10.02"/><circle cx="405.94" cy="11.95" r="1.22" fill="#ff0000" stroke="none"/></g>
</g>
<g fill="none" stroke="#000000"><path stroke-width="0.68" d="M394.5 124.5L400.22 132.64L405.94 132.34L411.66 132.1L417.38 131.92L423.1 131.78L428.82 131.67L434.54 131.58L440.26 131.52L445.98 131.46L451.7 131.42L457.42 131.39L463.14 131.37L468.86 131.35L474.58 131.33L480.3 131.32L486.02 131.31L491.74 131.3L497.46 131.3L503.18 131.3L508.9 131.29L514.62 131.29L520.34 131.29L526.06 131.29L531.78 131.28L537.5 131.28L543.22 131.28L548.94 131.28L554.66 131.28L560.38 131.28L566.1 131.28L571.82 131.28L577.54 131.28L583.26 131.28L588.98 131.28L594.7 131.28L600.42 131.28L606.14 131.28L611.86 131.28L617.58 131.28L623.3 131.28L629.02 131.28L634.74 131.28L640.46 131.28L646.18 131.28L651.9 131.28L657.62 131.28L663.34 131.28L669.06 131.28L674.78 131.28L680.5 131.28"/>
<g stroke-width="0.68"><path d="M392.53 121.59L397.79 124.5L392.53 127.41Z"/><path d="M398.25 129.72L403.51 132.64L398.25 135.55Z"/><path d="M403.97 129.42L409.23 132.34L403.97 135.25Z"/><path d="M409.69 129.19L414.95 132.1L409.69 135.02Z"/><path d="M415.41 129.01L420.67 131.92L415.41 134.83Z"/><path d="M421.13 128.86L426.39 131.78L421.13 134.69Z"/><path d="M426.85 128.75L432.11 131.67L426.85 134.58Z"/><path d="M432.57 128.67L437.83 131.58L432.57 134.5Z"/><path d="M438.29 128.6L443.55 131.52L438.29 134.43Z"/><path d="M444.01 128.55L449.27 131.46L444.01 134.38Z"/><path d="M449.73 128.51L454.99 131.42L449.73 134.34Z"/><path d="M455.45 128.48L460.71 131.39L455.45 134.31Z"/><path d="M461.17 128.45L466.43 131.37L461.17 134.28Z"/><path d="M466.89 128.43L472.15 131.35L466.89 134.26Z"/><path d="M472.61 128.42L477.87 131.33L472.61 134.25Z"/><path d="M478.33 128.41L483.59 131.32L478.33 134.23Z"/><path d="M484.05 128.4L489.31 131.31L484.05 134.23Z"/><path d="M489.77 128.39L495.03 131.3L489.77 134.22Z"/><path d="M495.49 128.39L500.75 131.3L495.49 134.21Z"/><path d="M501.21 128.38L506.47 131.3L501.21 134.21Z"/><path d="M506.93 128.38L512.19 131.29L506.93 134.21Z"/><path d="M512.65 128.38L517.91 131.29L512.65 134.2Z"/><path d="M518.37 128.37L523.63 131.29L518.37 134.2Z"/><path d="M524.09 128.37L529.35 131.29L524.09 134.2Z"/><path d="M529.81 128.37L535.07 131.28L529.81 134.2Z"/><path d="M535.53 128.37L540.79 131.28L535.53 134.2Z"/><path d="M541.25 128.37L546.51 131.28L541.25 134.2Z"/><path d="M546.97 128.37L552.23 131.28L546.97 134.2Z"/><path d="M552.69 128.37L557.95 131.28L552.69 134.2Z"/><path d="M558.41 128.37L563.67 131.28L558.41 134.2Z"/><path d="M564.13 128.37L569.39 131.28L564.13 134.19Z"/><path d="M569.85 128.37L575.11 131.28L569.85 134.19Z"/><path d="M575.57 128.37L580.83 131.28L575.57 134.19Z"/><path d="M581.29 128.37L586.55 131.28L581.29 134.19Z"/><path d="M587.01 128.37L592.27 131.28L587.01 134.19Z"/><path d="M592.73 128.37L597.99 131.28L592.73 134.19Z"/><path d="M598.45 128.37L603.71 131.28L598.45 134.19Z"/><path d="M604.17 128.37L609.43 131.28L604.17 134.19Z"/><path d="M609.89 128.37L615.15 131.28L609.89 134.19Z"/><path d="M615.61 128.37L620.87 131.28L615.61 134.19Z"/><path d="M621.33 128.37L626.59 131.28L621.33 134.19Z"/><path d="M627.05 128.37L632.31 131.28L627.05 134.19Z"/><path d="M632.77 128.37L638.03 131.28L632.77 134.19Z"/><path d="M638.49 128.37L643.75 131.28L638.49 134.19Z"/><path d="M644.21 128.37L649.47 131.28L644.21 134.19Z"/><path d="M649.93 128.37L655.19 131.28L649.93 134.19Z"/><path d="M655.65 128.37L660.91 131.28L655.65 134.19Z"/><path d="M661.37 128.37L666.63 131.28L661.37 134.19Z"/><path d="M667.09 128.37L672.35 131.28L667.09 134.19Z"/><path d="M672.81 128.37L678.07 131.28L672.81 134.19Z"/><path d="M678.53 128.37L683.79 131.28L678.53 134.19Z"/></g>
</g>
<g fill="none" stroke="#0000ff"><path stroke-width="0.68" d="M394.5 56.7L400.22 49.15L405.94 44.39L411.66 40.15L417.38 36.38L423.1 33.05L428.82 30.13L434.54 27.57L440.26 25.34L445.98 23.4L451.7 21.72L457.42 20.27L463.14 19.01L468.86 17.93L474.58 17.01L480.3 16.21L486.02 15.53L491.74 14.94L497.46 14.44L503.18 14.01L508.9 13.64L514.62 13.33L520.34 13.06L526.06 12.83L531.78 12.63L537.5 12.47L543.22 12.32L548.94 12.2L554.66 12.1L560.38 12.01L566.1 11.94L571.82 11.87L577.54 11.82L583.26 11.77L588.98 11.73L594.7 11.7L600.42 11.67L606.14 11.64L611.86 11.62L617.58 11.6L623.3 11.59L629.02 11.58L634.74 11.56L640.46 11.55L646.18 11.55L651.9 11.54L657.62 11.53L663.34 11.53L669.06 11.52L674.78 11.52L680.5 11.52"/>
<g stroke-width="0.68"><circle cx="394.5" cy="56.7" r="2.63"/><circle cx="400.22" cy="49.15" r="2.63"/><circle cx="405.94" cy="44.39" r="2.63"/><circle cx="411.66" cy="40.15" r="2.63"/><circle cx="417.38" cy="36.38" r="2.63"/><circle cx="423.1" cy="33.05" r="2.63"/><circle cx="428.82" cy="30.13" r="2.63"/><circle cx="434.54" cy="27.57" r="2.63"/><circle cx="440.26" cy="25.34" r="2.63"/><circle cx="445.98" cy="23.4" r="2.63"/><circle cx="451.7" cy="21.72" r="2.63"/><circle cx="457.42" cy="20.27" r="2.63"/><circle cx="463.14" cy="19.01" r="2.63"/><circle cx="468.86" cy="17.93" r="2.63"/><circle cx="474.58" cy="17.01" r="2.63"/><circle cx="480.3" cy="16.21" r="2.63"/><circle cx="486.02" cy="15.53" r="2.63"/><circle cx="491.74" cy="14.94" r="2.63"/><circle cx="497.46" cy="14.44" r="2.63"/><circle cx="503.18" cy="14.01" r="2.63"/><circle cx="508.9" cy="13.64" r="2.63"/><circle cx="514.62" cy="13.33" r="2.63"/><circle cx="520.34" cy="13.06" r="2.63"/><circle cx="526.06" cy="12.83" r="2.63"/><circle cx="531.78" cy="12.63" r="2.63"/><circle cx="537.5" cy="12.47" r="2.63"/><circle cx="543.22" cy="12.32" r="2.63"/><circle cx="548.94" cy="12.2" r="2.63"/><circle cx="554.66" cy="12.1" r="2.63"/><circle cx="560.38" cy="12.01" r="2.63"/><circle cx="566.1" cy="11.94" r="2.63"/><circle cx="571.82" cy="11.87" r="2.63"/><circle cx="577.54" cy="11.82" r="2.63"/></g>
<g stroke-width="1.02"><circle cx="583.26" cy="11.77" r="2.63"/><circle cx="588.98" cy="11.73" r="2.63"/><circle cx="594.7" cy="11.7" r="2.63"/><circle cx="600.42" cy="11.67" r="2.63"/><circle cx="606.14" cy="11.64" r="2.63"/><circle cx="611.86" cy="11.62" r="2.63"/><circle cx="617.58" cy="11.6" r="2.63"/><circle cx="623.3" cy="11.59" r="2.63"/><circle cx="629.02" cy="11.58" r="2.63"/><circle cx="634.74" cy="11.56" r="2.63"/><circle cx="640.46" cy="11.55" r="2.63"/><circle cx="646.18" cy="11.55" r="2.63"/><circle cx="651.9" cy="11.54" r="2.63"/><circle cx="657.62" cy="11.53" r="2.63"/><circle cx="663.34" cy="11.53" r="2.63"/><circle cx="669.06" cy="11.52" r="2.63"/><circle cx="674.78" cy="11.52" r="2.63"/><circle cx="680.5" cy="11.52" r="2.63"/></g>
</g>
<g fill="none" stroke="#ff0000"><path stroke-width="0.68" d="M394.5 56.7L400.22 12.4L405.94 11.5"/>
<g stroke-width="0.55"><path d="M391.77 56.7H397.23M394.5 53.97V59.43M392.57 54.77L396.43 58.63M392.57 58.63L396.43 54.77"/><circle cx="394.5" cy="56.7" r="1.22" fill="#ff0000" stroke="none"/><path d="M397.49 12.4H402.95M400.22 9.68V15.13M398.29 10.48L402.15 14.33M398.29 14.33L402.15 10.48"/><circle cx="400.22" cy="12.4" r="1.22" fill="#ff0000" stroke="none"/><path d="M403.21 11.5H408.67M405.94 8.77V14.23M404.01 9.57L407.87 13.43M404.01 13.43L407.87 9.57"/><circle cx="405.94" cy="11.5" r="1.22" fill="#ff0000" stroke="none"/></g>
<g stroke-width="0.82"><path d="M408.93 11.5H414.39M411.66 8.77V14.23M409.73 9.57L413.59 13.43M409.73 13.43L413.59 9.57"/><circle cx="411.66" cy="11.5" r="1.22" fill="#ff0000" stroke="none"/><path d="M414.65 11.5H420.11M417.38 8.77V14.23M415.45 9.57L419.31 13.43M415.45 13.43L419.31 9.57"/><circle cx="417.38" cy="11.5" r="1.22" fill="#ff0000" stroke="none"/><path d="M420.37 11.5H425.83M423.1 8.77V14.23M421.17 9.57L425.03 13.43M421.17 13.43L425.03 9.57"/><circle cx="423.1" cy="11.5" r="1.22" fill="#ff0000" stroke="none"/><path d="M426.09 11.5H431.55M428.82 8.77V14.23M426.89 9.57L430.75 13.43M426.89 13.43L430.75 9.57"/><circle cx="428.82" cy="11.5" r="1.22" fill="#ff0000" stroke="none"/><path d="M431.81 11.5H437.27M434.54 8.77V14.23M432.61 9.57L436.47 13.43M432.61 13.43L436.47 9.57"/><circle cx="434.54" cy="11.5" r="1.22" fill="#ff0000" stroke="none"/><path d="M437.53 11.5H442.99M440.26 8.77V14.23M438.33 9.57L442.19 13.43M438.33 13.43L442.19 9.57"/><circle cx="440.26" cy="11.5" r="1.22" fill="#ff0000" stroke="none"/><path d="M443.25 11.5H448.71M445.98 8.77V14.23M444.05 9.57L447.91 13.43M444.05 13.43L447.91 9.57"/><circle cx="445.98" cy="11.5" r="1.22" fill="#ff0000" stroke="none"/><path d="M448.97 11.5H454.43M451.7 8.77V14.23M449.77 9.57L453.63 13.43M449.77 13.43L453.63 9.57"/><circle cx="451.7" cy="11.5" r="1.22" fill="#ff0000" stroke="none"/><path d="M454.69 11.5H460.15M457.42 8.77V14.23M455.49 9.57L459.35 13.43M455.49 13.43L459.35 9.57"/><circle cx="457.42" cy="11.5" r="1.22" fill="#ff0000" stroke="none"/><path d="M460.41 11.5H465.87M463.14 8.77V14.23M461.21 9.57L465.07 13.43M461.21 13.43L465.07 9.57"/><circle cx="463.14" cy="11.5" r="1.22" fill="#ff0000" stroke="none"/><path d="M466.13 11.5H471.59M468.86 8.77V14.23M466.93 9.57L470.79 13.43M466.93 13.43L470.79 9.57"/><circle cx="468.86" cy="11.5" r="1.22" fill="#ff0000" stroke="none"/><path d="M471.85 11.5H477.31M474.58 8.77V14.23M472.65 9.57L476.51 13.43M472.65 13.43L476.51 9.57"/><circle cx="474.58" cy="11.5" r="1.22" fill="#ff0000" stroke="none"/><path d="M477.57 11.5H483.03M480.3 8.77V14.23M478.37 9.57L482.23 13.43M478.37 13.43L482.23 9.57"/><circle cx="480.3" cy="11.5" r="1.22" fill="#ff0000" stroke="none"/><path d="M483.29 11.5H488.75M486.02 8.77V14.23M484.09 9.57L487.95 13.43M484.09 13.43L487.95 9.57"/><circle cx="486.02" cy="11.5" r="1.22" fill="#ff0000" stroke="none"/><path d="M489.01 11.5H494.47M491.74 8.77V14.23M489.81 9.57L493.67 13.43M489.81 13.43L493.67 9.57"/><circle cx="491.74" cy="11.5" r="1.22" fill="#ff0000" stroke="none"/><path d="M494.73 11.5H500.19M497.46 8.77V14.23M495.53 9.57L499.39 13.43M495.53 13.43L499.39 9.57"/><circle cx="497.46" cy="11.5" r="1.22" fill="#ff0000" stroke="none"/><path d="M500.45 11.5H505.91M503.18 8.77V14.23M501.25 9.57L505.11 13.43M501.25 13.43L505.11 9.57"/><circle cx="503.18" cy="11.5" r="1.22" fill="#ff0000" stroke="none"/><path d="M506.17 11.5H511.63M508.9 8.77V14.23M506.97 9.57L510.83 13.43M506.97 13.43L510.83 9.57"/><circle cx="508.9" cy="11.5" r="1.22" fill="#ff0000" stroke="none"/><path d="M511.89 11.5H517.35M514.62 8.77V14.23M512.69 9.57L516.55 13.43M512.69 13.43L516.55 9.57"/><circle cx="514.62" cy="11.5" r="1.22" fill="#ff0000" stroke="none"/><path d="M517.61 11.5H523.07M520.34 8.77V14.23M518.41 9.57L522.27 13.43M518.41 13.43L522.27 9.57"/><circle cx="520.34" cy="11.5" r="1.22" fill="#ff0000" stroke="none"/><path d="M523.33 11.5H528.79M526.06 8.77V14.23M524.13 9.57L527.99 13.43M524.13 13.43L527.99 9.57"/><circle cx="526.06" cy="11.5" r="1.22" fill="#ff0000" stroke="none"/><path d="M529.05 11.5H534.51M531.78 8.77V14.23M529.85 9.57L533.71 13.43M529.85 13.43L533.71 9.57"/><circle cx="531.78" cy="11.5" r="1.22" fill="#ff0000" stroke="none"/><path d="M534.77 11.5H540.23M537.5 8.77V14.23M535.57 9.57L539.43 13.43M535.57 13.43L539.43 9.57"/><circle cx="537.5" cy="11.5" r="1.22" fill="#ff0000" stroke="none"/><path d="M540.49 11.5H545.95M543.22 8.77V14.23M541.29 9.57L545.15 13.43M541.29 13.43L545.15 9.57"/><circle cx="543.22" cy="11.5" r="1.22" fill="#ff0000" stroke="none"/><path d="M546.21 11.5H551.67M548.94 8.77V14.23M547.01 9.57L550.87 13.43M547.01 13.43L550.87 9.57"/><circle cx="548.94" cy="11.5" r="1.22" fill="#ff0000" stroke="none"/><path d="M551.93 11.5H557.39M554.66 8.77V14.23M552.73 9.57L556.59 13.43M552.73 13.43L556.59 9.57"/><circle cx="554.66" cy="11.5" r="1.22" fill="#ff0000" stroke="none"/><path d="M557.65 11.5H563.11M560.38 8.77V14.23M558.45 9.57L562.31 13.43M558.45 13.43L562.31 9.57"/><circle cx="560.38" cy="11.5" r="1.22" fill="#ff0000" stroke="none"/><path d="M563.37 11.5H568.83M566.1 8.77V14.23M564.17 9.57L568.03 13.43M564.17 13.43L568.03 9.57"/><circle cx="566.1" cy="11.5" r="1.22" fill="#ff0000" stroke="none"/><path d="M569.09 11.5H574.55M571.82 8.77V14.23M569.89 9.57L573.75 13.43M569.89 13.43L573.75 9.57"/><circle cx="571.82" cy="11.5" r="1.22" fill="#ff0000" stroke="none"/><path d="M574.81 11.5H580.27M577.54 8.77V14.23M575.61 9.57L579.47 13.43M575.61 13.43L579.47 9.57"/><circle cx="577.54" cy="11.5" r="1.22" fill="#ff0000" stroke="none"/><path d="M580.53 11.5H585.99M583.26 8.77V14.23M581.33 9.57L585.19 13.43M581.33 13.43L585.19 9.57"/><circle cx="583.26" cy="11.5" r="1.22" fill="#ff0000" stroke="none"/><path d="M586.25 11.5H591.71M588.98 8.77V14.23M587.05 9.57L590.91 13.43M587.05 13.43L590.91 9.57"/><circle cx="588.98" cy="11.5" r="1.22" fill="#ff0000" stroke="none"/><path d="M591.97 11.5H597.43M594.7 8.77V14.23M592.77 9.57L596.63 13.43M592.77 13.43L596.63 9.57"/><circle cx="594.7" cy="11.5" r="1.22" fill="#ff0000" stroke="none"/><path d="M597.69 11.5H603.15M600.42 8.77V14.23M598.49 9.57L602.35 13.43M598.49 13.43L602.35 9.57"/><circle cx="600.42" cy="11.5" r="1.22" fill="#ff0000" stroke="none"/><path d="M603.41 11.5H608.87M606.14 8.77V14.23M604.21 9.57L608.07 13.43M604.21 13.43L608.07 9.57"/><circle cx="606.14" cy="11.5" r="1.22" fill="#ff0000" stroke="none"/><path d="M609.13 11.5H614.59M611.86 8.77V14.23M609.93 9.57L613.79 13.43M609.93 13.43L613.79 9.57"/><circle cx="611.86" cy="11.5" r="1.22" fill="#ff0000" stroke="none"/><path d="M614.85 11.5H620.31M617.58 8.77V14.23M615.65 9.57L619.51 13.43M615.65 13.43L619.51 9.57"/><circle cx="617.58" cy="11.5" r="1.22" fill="#ff0000" stroke="none"/><path d="M620.57 11.5H626.03M623.3 8.77V14.23M621.37 9.57L625.23 13.43M621.37 13.43L625.23 9.57"/><circle cx="623.3" cy="11.5" r="1.22" fill="#ff0000" stroke="none"/><path d="M632.01 11.5H637.47M634.74 8.77V14.23M632.81 9.57L636.67 13.43M632.81 13.43L636.67 9.57"/><circle cx="634.74" cy="11.5" r="1.22" fill="#ff0000" stroke="none"/><path d="M637.73 11.5H643.19M640.46 8.77V14.23M638.53 9.57L642.39 13.43M638.53 13.43L642.39 9.57"/><circle cx="640.46" cy="11.5" r="1.22" fill="#ff0000" stroke="none"/><path d="M643.45 11.5H648.91M646.18 8.77V14.23M644.25 9.57L648.11 13.43M644.25 13.43L648.11 9.57"/><circle cx="646.18" cy="11.5" r="1.22" fill="#ff0000" stroke="none"/><path d="M649.17 11.5H654.63M651.9 8.77V14.23M649.97 9.57L653.83 13.43M649.97 13.43L653.83 9.57"/><circle cx="651.9" cy="11.5" r="1.22" fill="#ff0000" stroke="none"/><path d="M654.89 11.5H660.35M657.62 8.77V14.23M655.69 9.57L659.55 13.43M655.69 13.43L659.55 9.57"/><circle cx="657.62" cy="11.5" r="1.22" fill="#ff0000" stroke="none"/><path d="M660.61 11.5H666.07M663.34 8.77V14.23M661.41 9.57L665.27 13.43M661.41 13.43L665.27 9.57"/><circle cx="663.34" cy="11.5" r="1.22" fill="#ff0000" stroke="none"/><path d="M666.33 11.5H671.79M669.06 8.77V14.23M667.13 9.57L670.99 13.43M667.13 13.43L670.99 9.57"/><circle cx="669.06" cy="11.5" r="1.22" fill="#ff0000" stroke="none"/><path d="M672.05 11.5H677.51M674.78 8.77V14.23M672.85 9.57L676.71 13.43M672.85 13.43L676.71 9.57"/><circle cx="674.78" cy="11.5" r="1.22" fill="#ff0000" stroke="none"/><path d="M677.77 11.5H683.23M680.5 8.77V14.23M678.57 9.57L682.43 13.43M678.57 13.43L682.43 9.57"/><circle cx="680.5" cy="11.5" r="1.22" fill="#ff0000" stroke="none"/></g>
</g>
<g fill="none" stroke="#000000"><path stroke-width="0.68" d="M394.5 56.7L400.22 58.06L405.94 57.1L411.66 56.26L417.38 55.51L423.1 54.85L428.82 54.27L434.54 53.76L440.26 53.31L445.98 52.91L451.7 52.56L457.42 52.25L463.14 51.98L468.86 51.74L474.58 51.52L480.3 51.33L486.02 51.17L491.74 51.02L497.46 50.89L503.18 50.78L508.9 50.68L514.62 50.59L520.34 50.51L526.06 50.44L531.78 50.38L537.5 50.33L543.22 50.28L548.94 50.24L554.66 50.2L560.38 50.17L566.1 50.14L571.82 50.11L577.54 50.09L583.26 50.07L588.98 50.05L594.7 50.04L600.42 50.02L606.14 50.01L611.86 50L617.58 49.99L623.3 49.98L629.02 49.97L634.74 49.97L640.46 49.96L646.18 49.96L651.9 49.95L657.62 49.95L663.34 49.95L669.06 49.94L674.78 49.94L680.5 49.94"/>
<g stroke-width="0.68"><path d="M392.53 53.79L397.79 56.7L392.53 59.61Z"/><path d="M398.25 55.14L403.51 58.06L398.25 60.97Z"/><path d="M403.97 54.19L409.23 57.1L403.97 60.01Z"/><path d="M409.69 53.34L414.95 56.26L409.69 59.17Z"/><path d="M415.41 52.6L420.67 55.51L415.41 58.43Z"/><path d="M421.13 51.94L426.39 54.85L421.13 57.77Z"/><path d="M426.85 51.36L432.11 54.27L426.85 57.19Z"/><path d="M432.57 50.85L437.83 53.76L432.57 56.68Z"/><path d="M438.29 50.4L443.55 53.31L438.29 56.23Z"/><path d="M444.01 50L449.27 52.91L444.01 55.83Z"/><path d="M449.73 49.65L454.99 52.56L449.73 55.48Z"/><path d="M455.45 49.34L460.71 52.25L455.45 55.17Z"/><path d="M461.17 49.06L466.43 51.98L461.17 54.89Z"/><path d="M466.89 48.82L472.15 51.74L466.89 54.65Z"/><path d="M472.61 48.61L477.87 51.52L472.61 54.44Z"/><path d="M478.33 48.42L483.59 51.33L478.33 54.25Z"/><path d="M484.05 48.25L489.31 51.17L484.05 54.08Z"/><path d="M489.77 48.11L495.03 51.02L489.77 53.94Z"/><path d="M495.49 47.98L500.75 50.89L495.49 53.81Z"/><path d="M501.21 47.86L506.47 50.78L501.21 53.69Z"/><path d="M506.93 47.76L512.19 50.68L506.93 53.59Z"/><path d="M512.65 47.67L517.91 50.59L512.65 53.5Z"/><path d="M518.37 47.6L523.63 50.51L518.37 53.42Z"/><path d="M524.09 47.53L529.35 50.44L524.09 53.35Z"/><path d="M529.81 47.47L535.07 50.38L529.81 53.29Z"/><path d="M535.53 47.41L540.79 50.33L535.53 53.24Z"/><path d="M541.25 47.36L546.51 50.28L541.25 53.19Z"/><path d="M546.97 47.32L552.23 50.24L546.97 53.15Z"/><path d="M552.69 47.28L557.95 50.2L552.69 53.11Z"/><path d="M558.41 47.25L563.67 50.17L558.41 53.08Z"/><path d="M564.13 47.22L569.39 50.14L564.13 53.05Z"/><path d="M569.85 47.2L575.11 50.11L569.85 53.03Z"/><path d="M575.57 47.17L580.83 50.09L575.57 53Z"/><path d="M581.29 47.16L586.55 50.07L581.29 52.98Z"/><path d="M587.01 47.14L592.27 50.05L587.01 52.97Z"/><path d="M592.73 47.12L597.99 50.04L592.73 52.95Z"/><path d="M598.45 47.11L603.71 50.02L598.45 52.94Z"/><path d="M604.17 47.1L609.43 50.01L604.17 52.92Z"/><path d="M609.89 47.09L615.15 50L609.89 52.91Z"/><path d="M615.61 47.08L620.87 49.99L615.61 52.9Z"/><path d="M621.33 47.07L626.59 49.98L621.33 52.9Z"/><path d="M627.05 47.06L632.31 49.97L627.05 52.89Z"/><path d="M632.77 47.05L638.03 49.97L632.77 52.88Z"/><path d="M638.49 47.05L643.75 49.96L638.49 52.88Z"/><path d="M644.21 47.04L649.47 49.96L644.21 52.87Z"/><path d="M649.93 47.04L655.19 49.95L649.93 52.87Z"/><path d="M655.65 47.04L660.91 49.95L655.65 52.86Z"/><path d="M661.37 47.03L666.63 49.95L661.37 52.86Z"/><path d="M667.09 47.03L672.35 49.94L667.09 52.86Z"/><path d="M672.81 47.03L678.07 49.94L672.81 52.85Z"/><path d="M678.53 47.02L683.79 49.94L678.53 52.85Z"/></g>
</g>
<rect x="604.4" y="20.1" width="68" height="35.1" fill="#fff" stroke="#262626" stroke-width="0.6"/>
<g fill="none" stroke="#0072bd" stroke-width="0.68"><path d="M607.15 26.77H626.75"/><circle cx="616.9" cy="26.77" r="2.63"/></g>
<text x="629.5" y="29.61" font-size="7.96" fill="#000">E-platform</text>
<g fill="none" stroke="#ff0000" stroke-width="0.68"><path d="M607.15 37.83H626.75"/><path d="M614.18 37.83H619.63M616.9 35.1V40.55M614.97 35.9L618.83 39.75M614.97 39.75L618.83 35.9"/><circle cx="616.9" cy="37.83" r="1.22" fill="#ff0000" stroke="none"/></g>
<text x="629.5" y="40.67" font-size="7.96" fill="#000">Consumer</text>
<g fill="none" stroke="#000000" stroke-width="0.68"><path d="M607.15 48.88H626.75"/><path d="M614.93 45.97L620.19 48.88L614.93 51.8Z"/></g>
<text x="629.5" y="51.72" font-size="7.96" fill="#000">E-company</text>
<g fill="none" stroke="#6b6b6b" stroke-width="1">
<rect x="35.8" y="314.1" width="294.7" height="232.4"/>
<path d="M35.8 546.5v-2.901M35.8 314.1v2.901M65.27 546.5v-2.901M65.27 314.1v2.901M94.74 546.5v-2.901M94.74 314.1v2.901M124.21 546.5v-2.901M124.21 314.1v2.901M153.68 546.5v-2.901M153.68 314.1v2.901M183.15 546.5v-2.901M183.15 314.1v2.901M212.62 546.5v-2.901M212.62 314.1v2.901M242.09 546.5v-2.901M242.09 314.1v2.901M271.56 546.5v-2.901M271.56 314.1v2.901M301.03 546.5v-2.901M301.03 314.1v2.901M330.5 546.5v-2.901M330.5 314.1v2.901M35.8 546.5h2.901M330.5 546.5h-2.901M35.8 523.26h2.901M330.5 523.26h-2.901M35.8 500.02h2.901M330.5 500.02h-2.901M35.8 476.78h2.901M330.5 476.78h-2.901M35.8 453.54h2.901M330.5 453.54h-2.901M35.8 430.3h2.901M330.5 430.3h-2.901M35.8 407.06h2.901M330.5 407.06h-2.901M35.8 383.82h2.901M330.5 383.82h-2.901M35.8 360.58h2.901M330.5 360.58h-2.901M35.8 337.34h2.901M330.5 337.34h-2.901M35.8 314.1h2.901M330.5 314.1h-2.901"/>
</g>
<g font-size="9.45" fill="#262626">
<g text-anchor="middle">
<text x="35.8" y="559.84">0</text>
<text x="65.27" y="559.84">5</text>
<text x="94.74" y="559.84">10</text>
<text x="124.21" y="559.84">15</text>
<text x="153.68" y="559.84">20</text>
<text x="183.15" y="559.84">25</text>
<text x="212.62" y="559.84">30</text>
<text x="242.09" y="559.84">35</text>
<text x="271.56" y="559.84">40</text>
<text x="301.03" y="559.84">45</text>
<text x="330.5" y="559.84">50</text>
</g><g text-anchor="end">
<text x="32.25" y="549.69">0</text>
<text x="32.25" y="526.45">0.1</text>
<text x="32.25" y="503.21">0.2</text>
<text x="32.25" y="479.97">0.3</text>
<text x="32.25" y="456.73">0.4</text>
<text x="32.25" y="433.49">0.5</text>
<text x="32.25" y="410.25">0.6</text>
<text x="32.25" y="387.01">0.7</text>
<text x="32.25" y="363.77">0.8</text>
<text x="32.25" y="340.53">0.9</text>
<text x="32.25" y="317.29">1</text>
</g></g>
<g font-size="10.41" fill="#262626" text-anchor="middle">
<text x="183.75" y="574.06">t<tspan dx="-1.16">（</tspan><tspan dx="1.84">Time）</tspan></text>
<text transform="translate(13.2 429.7) rotate(-90)">p<tspan dx="-1.16">（</tspan><tspan dx="1.84">probability）</tspan></text>
</g>
<text x="183.15"  y="309.8" font-size="9.95" fill="#000" text-anchor="middle">F=0.5,<tspan font-style="italic">θ</tspan>=0.1</text>
<g fill="none" stroke="#0072bd"><path stroke-width="0.7" d="M35.8 500.02L41.69 406.36L47.59 336.18L53.48 320.84L59.38 316.89L65.27 314.56"/>
<g stroke-width="0.7"><circle cx="35.8" cy="500.02" r="2.71"/><circle cx="41.69" cy="406.36" r="2.71"/><circle cx="47.59" cy="336.18" r="2.71"/><circle cx="59.38" cy="316.89" r="2.71"/></g>
</g>
<g fill="none" stroke="#ff0000"><path stroke-width="0.7" d="M35.8 500.02L41.69 352.91L47.59 316.42L53.48 314.33"/>
<g stroke-width="0.56"><path d="M33 500.02H38.6M35.8 497.22V502.82M33.82 498.04L37.78 502M33.82 502L37.78 498.04"/><circle cx="35.8" cy="500.02" r="1.26" fill="#ff0000" stroke="none"/><path d="M38.89 352.91H44.5M41.69 350.11V355.72M39.71 350.93L43.68 354.89M39.71 354.89L43.68 350.93"/><circle cx="41.69" cy="352.91" r="1.26" fill="#ff0000" stroke="none"/><path d="M44.78 316.42H50.39M47.59 313.62V319.23M45.61 314.44L49.57 318.41M45.61 318.41L49.57 314.44"/><circle cx="47.59" cy="316.42" r="1.26" fill="#ff0000" stroke="none"/></g>
</g>
<g fill="none" stroke="#000000"><path stroke-width="0.7" d="M35.8 500.02L41.69 510.36L47.59 507.27L53.48 503.97L59.38 500.45L65.27 496.73L71.16 492.79L77.06 488.63L82.95 484.27L88.85 479.71L94.74 474.95L100.63 470L106.53 464.89L112.42 459.63L118.32 454.24L124.21 448.73L130.1 443.15L136 437.5L141.89 431.81L147.79 426.12L153.68 420.45L159.57 414.82L165.47 409.27L171.36 403.82L177.26 398.48L183.15 393.29L189.04 388.25L194.94 383.4L200.83 378.73L206.73 374.25L212.62 369.99L218.51 365.94L224.41 362.1L230.3 358.47L236.2 355.06L242.09 351.86L247.98 348.86L253.88 346.06L259.77 343.45L265.67 341.03L271.56 338.78L277.45 336.7L283.35 334.78L289.24 333.01L295.14 331.37L301.03 329.87L306.92 328.49L312.82 327.22L318.71 326.06L324.61 325L330.5 324.02"/>
<g stroke-width="0.7"><path d="M33.77 497.02L39.18 500.02L33.77 503.02Z"/><path d="M39.66 507.36L45.08 510.36L39.66 513.36Z"/><path d="M45.56 504.27L50.97 507.27L45.56 510.26Z"/><path d="M51.45 500.97L56.87 503.97L51.45 506.96Z"/><path d="M57.35 497.46L62.76 500.45L57.35 503.45Z"/><path d="M63.24 493.73L68.65 496.73L63.24 499.73Z"/><path d="M69.13 489.79L74.55 492.79L69.13 495.79Z"/><path d="M75.03 485.64L80.44 488.63L75.03 491.63Z"/><path d="M80.92 481.27L86.34 484.27L80.92 487.27Z"/><path d="M86.82 476.71L92.23 479.71L86.82 482.7Z"/><path d="M92.71 471.95L98.12 474.95L92.71 477.94Z"/><path d="M98.6 467.01L104.02 470L98.6 473Z"/><path d="M104.5 461.9L109.91 464.89L104.5 467.89Z"/><path d="M110.39 456.63L115.81 459.63L110.39 462.63Z"/><path d="M116.29 451.24L121.7 454.24L116.29 457.24Z"/><path d="M122.18 445.74L127.59 448.73L122.18 451.73Z"/><path d="M128.07 440.15L133.49 443.15L128.07 446.14Z"/><path d="M133.97 434.5L139.38 437.5L133.97 440.49Z"/><path d="M139.86 428.81L145.28 431.81L139.86 434.81Z"/><path d="M145.76 423.12L151.17 426.12L145.76 429.12Z"/><path d="M151.65 417.45L157.06 420.45L151.65 423.44Z"/><path d="M157.54 411.82L162.96 414.82L157.54 417.82Z"/><path d="M163.44 406.27L168.85 409.27L163.44 412.27Z"/><path d="M169.33 400.82L174.75 403.82L169.33 406.81Z"/><path d="M175.23 395.48L180.64 398.48L175.23 401.48Z"/><path d="M181.12 390.29L186.53 393.29L181.12 396.29Z"/><path d="M187.01 385.26L192.43 388.25L187.01 391.25Z"/><path d="M192.91 380.4L198.32 383.4L192.91 386.39Z"/><path d="M198.8 375.73L204.22 378.73L198.8 381.72Z"/><path d="M204.7 371.26L210.11 374.25L204.7 377.25Z"/><path d="M210.59 366.99L216 369.99L210.59 372.99Z"/><path d="M216.48 362.94L221.9 365.94L216.48 368.93Z"/><path d="M222.38 359.1L227.79 362.1L222.38 365.09Z"/><path d="M228.27 355.47L233.69 358.47L228.27 361.47Z"/><path d="M234.17 352.06L239.58 355.06L234.17 358.06Z"/><path d="M240.06 348.86L245.47 351.86L240.06 354.85Z"/><path d="M245.95 345.86L251.37 348.86L245.95 351.86Z"/><path d="M251.85 343.06L257.26 346.06L251.85 349.06Z"/><path d="M257.74 340.46L263.16 343.45L257.74 346.45Z"/><path d="M263.64 338.03L269.05 341.03L263.64 344.03Z"/><path d="M269.53 335.79L274.94 338.78L269.53 341.78Z"/><path d="M275.42 333.71L280.84 336.7L275.42 339.7Z"/><path d="M281.32 331.78L286.73 334.78L281.32 337.78Z"/><path d="M287.21 330.01L292.63 333.01L287.21 336.01Z"/><path d="M293.11 328.38L298.52 331.37L293.11 334.37Z"/><path d="M299 326.87L304.41 329.87L299 332.87Z"/><path d="M304.89 325.49L310.31 328.49L304.89 331.49Z"/><path d="M310.79 324.22L316.2 327.22L310.79 330.22Z"/><path d="M316.68 323.06L322.1 326.06L316.68 329.06Z"/><path d="M322.58 322L327.99 325L322.58 327.99Z"/><path d="M328.47 321.03L333.88 324.02L328.47 327.02Z"/></g>
</g>
<g fill="none" stroke="#0000ff"><path stroke-width="0.7" d="M35.8 430.3L41.69 368.57L47.59 335.71L53.48 321.07L59.38 317.35L65.27 314.56L71.16 314.1L77.06 314.1L82.95 314.1L88.85 314.1L94.74 314.1L100.63 314.1L106.53 314.1L112.42 314.1L118.32 314.1L124.21 314.1L130.1 314.1L136 314.1L141.89 314.1L147.79 314.1L153.68 314.1L159.57 314.1L165.47 314.1L171.36 314.1L177.26 314.1L183.15 314.1L189.04 314.1L194.94 314.1L200.83 314.1L206.73 314.1L212.62 314.1L218.51 314.1L224.41 314.1L230.3 314.1L236.2 314.1L242.09 314.1L247.98 314.1L253.88 314.1L259.77 314.1L265.67 314.1L271.56 314.1L277.45 314.1L283.35 314.1L289.24 314.1L295.14 314.1L301.03 314.1L306.92 314.1L312.82 314.1L318.71 314.1L324.61 314.1L330.5 314.1"/>
<g stroke-width="0.7"><circle cx="35.8" cy="430.3" r="2.71"/><circle cx="41.69" cy="368.57" r="2.71"/><circle cx="47.59" cy="335.71" r="2.71"/><circle cx="59.38" cy="317.35" r="2.71"/></g>
<g stroke-width="0.87"><circle cx="53.48" cy="321.07" r="2.71"/><circle cx="65.27" cy="314.56" r="2.71"/><circle cx="71.16" cy="314.1" r="2.71"/><circle cx="77.06" cy="314.1" r="2.71"/><circle cx="82.95" cy="314.1" r="2.71"/><circle cx="88.85" cy="314.1" r="2.71"/><circle cx="94.74" cy="314.1" r="2.71"/><circle cx="100.63" cy="314.1" r="2.71"/><circle cx="106.53" cy="314.1" r="2.71"/><circle cx="112.42" cy="314.1" r="2.71"/><circle cx="118.32" cy="314.1" r="2.71"/><circle cx="124.21" cy="314.1" r="2.71"/><circle cx="130.1" cy="314.1" r="2.71"/><circle cx="136" cy="314.1" r="2.71"/><circle cx="141.89" cy="314.1" r="2.71"/><circle cx="147.79" cy="314.1" r="2.71"/><circle cx="153.68" cy="314.1" r="2.71"/><circle cx="159.57" cy="314.1" r="2.71"/><circle cx="165.47" cy="314.1" r="2.71"/><circle cx="171.36" cy="314.1" r="2.71"/><circle cx="177.26" cy="314.1" r="2.71"/><circle cx="183.15" cy="314.1" r="2.71"/><circle cx="189.04" cy="314.1" r="2.71"/><circle cx="194.94" cy="314.1" r="2.71"/><circle cx="200.83" cy="314.1" r="2.71"/><circle cx="206.73" cy="314.1" r="2.71"/><circle cx="212.62" cy="314.1" r="2.71"/><circle cx="218.51" cy="314.1" r="2.71"/><circle cx="224.41" cy="314.1" r="2.71"/><circle cx="230.3" cy="314.1" r="2.71"/><circle cx="236.2" cy="314.1" r="2.71"/><circle cx="242.09" cy="314.1" r="2.71"/><circle cx="247.98" cy="314.1" r="2.71"/><circle cx="253.88" cy="314.1" r="2.71"/><circle cx="259.77" cy="314.1" r="2.71"/><circle cx="265.67" cy="314.1" r="2.71"/><circle cx="271.56" cy="314.1" r="2.71"/><circle cx="277.45" cy="314.1" r="2.71"/><circle cx="283.35" cy="314.1" r="2.71"/><circle cx="289.24" cy="314.1" r="2.71"/><circle cx="295.14" cy="314.1" r="2.71"/><circle cx="301.03" cy="314.1" r="2.71"/><circle cx="306.92" cy="314.1" r="2.71"/><circle cx="312.82" cy="314.1" r="2.71"/><circle cx="318.71" cy="314.1" r="2.71"/><circle cx="324.61" cy="314.1" r="2.71"/><circle cx="330.5" cy="314.1" r="2.71"/></g>
</g>
<g fill="none" stroke="#ff0000"><path stroke-width="0.7" d="M35.8 430.3L41.69 325.49L47.59 314.56L53.48 314.1"/>
<g stroke-width="0.56"><path d="M33 430.3H38.6M35.8 427.5V433.1M33.82 428.32L37.78 432.28M33.82 432.28L37.78 428.32"/><circle cx="35.8" cy="430.3" r="1.26" fill="#ff0000" stroke="none"/><path d="M38.89 325.49H44.5M41.69 322.68V328.29M39.71 323.51L43.68 327.47M39.71 327.47L43.68 323.51"/><circle cx="41.69" cy="325.49" r="1.26" fill="#ff0000" stroke="none"/><path d="M44.78 314.56H50.39M47.59 311.76V317.37M45.61 312.58L49.57 316.55M45.61 316.55L49.57 312.58"/><circle cx="47.59" cy="314.56" r="1.26" fill="#ff0000" stroke="none"/></g>
</g>
<g fill="none" stroke="#000000"><path stroke-width="0.7" d="M35.8 430.3L41.69 434.95L47.59 429.09L53.48 423.2L59.38 417.32L65.27 411.48L71.16 405.59L77.06 399.69L82.95 393.99L88.85 388.65L94.74 383.82L100.63 379.48L106.53 375.5L112.42 371.82L118.32 368.4L124.21 365.18L130.1 362.14L136 359.23L141.89 356.43L147.79 353.71L153.68 351.05L159.57 348.48L165.47 346.03L171.36 343.71L177.26 341.52L183.15 339.46L189.04 337.53L194.94 335.73L200.83 334.05L206.73 332.5L212.62 331.07L218.51 329.74L224.41 328.5L230.3 327.36L236.2 326.31L242.09 325.33L247.98 324.43L253.88 323.6L259.77 322.83L265.67 322.12L271.56 321.47L277.45 320.86L283.35 320.31L289.24 319.8L295.14 319.33L301.03 318.9L306.92 318.5L312.82 318.14L318.71 317.8L324.61 317.5L330.5 317.21"/>
<g stroke-width="0.7"><path d="M33.77 427.3L39.18 430.3L33.77 433.3Z"/><path d="M39.66 431.95L45.08 434.95L39.66 437.95Z"/><path d="M45.56 426.09L50.97 429.09L45.56 432.08Z"/><path d="M51.45 420.2L56.87 423.2L51.45 426.2Z"/><path d="M57.35 414.32L62.76 417.32L57.35 420.32Z"/><path d="M63.24 408.48L68.65 411.48L63.24 414.47Z"/><path d="M69.13 402.59L74.55 405.59L69.13 408.58Z"/><path d="M75.03 396.69L80.44 399.69L75.03 402.69Z"/><path d="M80.92 390.99L86.34 393.99L80.92 396.99Z"/><path d="M86.82 385.65L92.23 388.65L86.82 391.65Z"/><path d="M92.71 380.82L98.12 383.82L92.71 386.82Z"/><path d="M98.6 376.49L104.02 379.48L98.6 382.48Z"/><path d="M104.5 372.5L109.91 375.5L104.5 378.5Z"/><path d="M110.39 368.83L115.81 371.82L110.39 374.82Z"/><path d="M116.29 365.4L121.7 368.4L116.29 371.4Z"/><path d="M122.18 362.18L127.59 365.18L122.18 368.18Z"/><path d="M128.07 359.14L133.49 362.14L128.07 365.14Z"/><path d="M133.97 356.23L139.38 359.23L133.97 362.23Z"/><path d="M139.86 353.43L145.28 356.43L139.86 359.42Z"/><path d="M145.76 350.71L151.17 353.71L145.76 356.71Z"/><path d="M151.65 348.05L157.06 351.05L151.65 354.05Z"/><path d="M157.54 345.48L162.96 348.48L157.54 351.48Z"/><path d="M163.44 343.04L168.85 346.03L163.44 349.03Z"/><path d="M169.33 340.71L174.75 343.71L169.33 346.71Z"/><path d="M175.23 338.52L180.64 341.52L175.23 344.52Z"/><path d="M181.12 336.46L186.53 339.46L181.12 342.46Z"/><path d="M187.01 334.53L192.43 337.53L187.01 340.53Z"/><path d="M192.91 332.73L198.32 335.73L192.91 338.73Z"/><path d="M198.8 331.06L204.22 334.05L198.8 337.05Z"/><path d="M204.7 329.5L210.11 332.5L204.7 335.5Z"/><path d="M210.59 328.07L216 331.07L210.59 334.06Z"/><path d="M216.48 326.74L221.9 329.74L216.48 332.73Z"/><path d="M222.38 325.51L227.79 328.5L222.38 331.5Z"/><path d="M228.27 324.37L233.69 327.36L228.27 330.36Z"/><path d="M234.17 323.31L239.58 326.31L234.17 329.31Z"/><path d="M240.06 322.33L245.47 325.33L240.06 328.33Z"/><path d="M245.95 321.43L251.37 324.43L245.95 327.43Z"/><path d="M251.85 320.6L257.26 323.6L251.85 326.59Z"/><path d="M257.74 319.83L263.16 322.83L257.74 325.83Z"/><path d="M263.64 319.12L269.05 322.12L263.64 325.12Z"/><path d="M269.53 318.47L274.94 321.47L269.53 324.46Z"/><path d="M275.42 317.87L280.84 320.86L275.42 323.86Z"/><path d="M281.32 317.31L286.73 320.31L281.32 323.31Z"/><path d="M287.21 316.8L292.63 319.8L287.21 322.8Z"/><path d="M293.11 316.33L298.52 319.33L293.11 322.33Z"/><path d="M299 315.9L304.41 318.9L299 321.9Z"/><path d="M304.89 315.51L310.31 318.5L304.89 321.5Z"/><path d="M310.79 315.14L316.2 318.14L310.79 321.14Z"/><path d="M316.68 314.81L322.1 317.8L316.68 320.8Z"/><path d="M322.58 314.5L327.99 317.5L322.58 320.49Z"/><path d="M328.47 314.22L333.88 317.21L328.47 320.21Z"/></g>
</g>
<g fill="none" stroke="#0000ff"><path stroke-width="0.7" d="M35.8 360.58L41.69 355.7L47.59 353.26L53.48 352.1L59.38 352.35L65.27 353.61L71.16 355.47L77.06 358.26L82.95 361.97L88.85 366.62L94.74 372.9L100.63 379.87L106.53 387.89L112.42 397.76L118.32 408.69L124.21 421L130.1 434.25L136 447.15L141.89 461.21L147.79 474.46L153.68 486.77L159.57 497.7L165.47 507.22L171.36 515.59L177.26 522.56L183.15 528.14L189.04 532.39L194.94 535.9L200.83 538.71L206.73 540.46L212.62 542.08L218.51 543.24L224.41 544.06L230.3 544.63L236.2 545.05L242.09 545.38L247.98 545.65L253.88 545.86L259.77 546.02L265.67 546.14L271.56 546.22L277.45 546.28L283.35 546.33L289.24 546.36L295.14 546.39L301.03 546.41L306.92 546.42L312.82 546.43L318.71 546.44L324.61 546.45L330.5 546.45"/>
<g stroke-width="0.7"><circle cx="35.8" cy="360.58" r="2.71"/><circle cx="41.69" cy="355.7" r="2.71"/><circle cx="47.59" cy="353.26" r="2.71"/><circle cx="53.48" cy="352.1" r="2.71"/><circle cx="59.38" cy="352.35" r="2.71"/><circle cx="65.27" cy="353.61" r="2.71"/><circle cx="71.16" cy="355.47" r="2.71"/><circle cx="77.06" cy="358.26" r="2.71"/><circle cx="82.95" cy="361.97" r="2.71"/><circle cx="88.85" cy="366.62" r="2.71"/><circle cx="94.74" cy="372.9" r="2.71"/><circle cx="100.63" cy="379.87" r="2.71"/><circle cx="106.53" cy="387.89" r="2.71"/><circle cx="112.42" cy="397.76" r="2.71"/><circle cx="118.32" cy="408.69" r="2.71"/><circle cx="124.21" cy="421" r="2.71"/><circle cx="130.1" cy="434.25" r="2.71"/><circle cx="136" cy="447.15" r="2.71"/><circle cx="141.89" cy="461.21" r="2.71"/><circle cx="147.79" cy="474.46" r="2.71"/><circle cx="153.68" cy="486.77" r="2.71"/><circle cx="159.57" cy="497.7" r="2.71"/><circle cx="165.47" cy="507.22" r="2.71"/><circle cx="171.36" cy="515.59" r="2.71"/><circle cx="177.26" cy="522.56" r="2.71"/><circle cx="183.15" cy="528.14" r="2.71"/><circle cx="189.04" cy="532.39" r="2.71"/><circle cx="194.94" cy="535.9" r="2.71"/><circle cx="200.83" cy="538.71" r="2.71"/><circle cx="206.73" cy="540.46" r="2.71"/><circle cx="212.62" cy="542.08" r="2.71"/><circle cx="218.51" cy="543.24" r="2.71"/><circle cx="224.41" cy="544.06" r="2.71"/><circle cx="230.3" cy="544.63" r="2.71"/><circle cx="236.2" cy="545.05" r="2.71"/><circle cx="242.09" cy="545.38" r="2.71"/><circle cx="247.98" cy="545.65" r="2.71"/><circle cx="253.88" cy="545.86" r="2.71"/><circle cx="259.77" cy="546.02" r="2.71"/><circle cx="265.67" cy="546.14" r="2.71"/><circle cx="271.56" cy="546.22" r="2.71"/><circle cx="277.45" cy="546.28" r="2.71"/><circle cx="283.35" cy="546.33" r="2.71"/><circle cx="289.24" cy="546.36" r="2.71"/><circle cx="295.14" cy="546.39" r="2.71"/><circle cx="301.03" cy="546.41" r="2.71"/><circle cx="306.92" cy="546.42" r="2.71"/><circle cx="312.82" cy="546.43" r="2.71"/><circle cx="318.71" cy="546.44" r="2.71"/><circle cx="324.61" cy="546.45" r="2.71"/><circle cx="330.5" cy="546.45" r="2.71"/></g>
</g>
<g fill="none" stroke="#ff0000"><path stroke-width="0.7" d="M35.8 360.58L41.69 316.42L47.59 314.1"/>
<g stroke-width="0.56"><path d="M33 360.58H38.6M35.8 357.78V363.38M33.82 358.6L37.78 362.56M33.82 362.56L37.78 358.6"/><circle cx="35.8" cy="360.58" r="1.26" fill="#ff0000" stroke="none"/><path d="M38.89 316.42H44.5M41.69 313.62V319.23M39.71 314.44L43.68 318.41M39.71 318.41L43.68 314.44"/><circle cx="41.69" cy="316.42" r="1.26" fill="#ff0000" stroke="none"/><path d="M44.78 314.1H50.39M47.59 311.3V316.9M45.61 312.12L49.57 316.08M45.61 316.08L49.57 312.12"/><circle cx="47.59" cy="314.1" r="1.26" fill="#ff0000" stroke="none"/></g>
<g stroke-width="0.84"><path d="M50.68 314.1H56.29M53.48 311.3V316.9M51.5 312.12L55.46 316.08M51.5 316.08L55.46 312.12"/><circle cx="53.48" cy="314.1" r="1.26" fill="#ff0000" stroke="none"/><path d="M56.57 314.1H62.18M59.38 311.3V316.9M57.39 312.12L61.36 316.08M57.39 316.08L61.36 312.12"/><circle cx="59.38" cy="314.1" r="1.26" fill="#ff0000" stroke="none"/><path d="M62.47 314.1H68.07M65.27 311.3V316.9M63.29 312.12L67.25 316.08M63.29 316.08L67.25 312.12"/><circle cx="65.27" cy="314.1" r="1.26" fill="#ff0000" stroke="none"/><path d="M68.36 314.1H73.97M71.16 311.3V316.9M69.18 312.12L73.15 316.08M69.18 316.08L73.15 312.12"/><circle cx="71.16" cy="314.1" r="1.26" fill="#ff0000" stroke="none"/><path d="M74.25 314.1H79.86M77.06 311.3V316.9M75.08 312.12L79.04 316.08M75.08 316.08L79.04 312.12"/><circle cx="77.06" cy="314.1" r="1.26" fill="#ff0000" stroke="none"/><path d="M80.15 314.1H85.76M82.95 311.3V316.9M80.97 312.12L84.93 316.08M80.97 316.08L84.93 312.12"/><circle cx="82.95" cy="314.1" r="1.26" fill="#ff0000" stroke="none"/><path d="M86.04 314.1H91.65M88.85 311.3V316.9M86.86 312.12L90.83 316.08M86.86 316.08L90.83 312.12"/><circle cx="88.85" cy="314.1" r="1.26" fill="#ff0000" stroke="none"/><path d="M91.94 314.1H97.54M94.74 311.3V316.9M92.76 312.12L96.72 316.08M92.76 316.08L96.72 312.12"/><circle cx="94.74" cy="314.1" r="1.26" fill="#ff0000" stroke="none"/><path d="M97.83 314.1H103.44M100.63 311.3V316.9M98.65 312.12L102.62 316.08M98.65 316.08L102.62 312.12"/><circle cx="100.63" cy="314.1" r="1.26" fill="#ff0000" stroke="none"/><path d="M103.72 314.1H109.33M106.53 311.3V316.9M104.55 312.12L108.51 316.08M104.55 316.08L108.51 312.12"/><circle cx="106.53" cy="314.1" r="1.26" fill="#ff0000" stroke="none"/><path d="M109.62 314.1H115.23M112.42 311.3V316.9M110.44 312.12L114.4 316.08M110.44 316.08L114.4 312.12"/><circle cx="112.42" cy="314.1" r="1.26" fill="#ff0000" stroke="none"/><path d="M115.51 314.1H121.12M118.32 311.3V316.9M116.33 312.12L120.3 316.08M116.33 316.08L120.3 312.12"/><circle cx="118.32" cy="314.1" r="1.26" fill="#ff0000" stroke="none"/><path d="M121.41 314.1H127.01M124.21 311.3V316.9M122.23 312.12L126.19 316.08M122.23 316.08L126.19 312.12"/><circle cx="124.21" cy="314.1" r="1.26" fill="#ff0000" stroke="none"/><path d="M127.3 314.1H132.91M130.1 311.3V316.9M128.12 312.12L132.09 316.08M128.12 316.08L132.09 312.12"/><circle cx="130.1" cy="314.1" r="1.26" fill="#ff0000" stroke="none"/><path d="M133.19 314.1H138.8M136 311.3V316.9M134.02 312.12L137.98 316.08M134.02 316.08L137.98 312.12"/><circle cx="136" cy="314.1" r="1.26" fill="#ff0000" stroke="none"/><path d="M139.09 314.1H144.7M141.89 311.3V316.9M139.91 312.12L143.87 316.08M139.91 316.08L143.87 312.12"/><circle cx="141.89" cy="314.1" r="1.26" fill="#ff0000" stroke="none"/><path d="M144.98 314.1H150.59M147.79 311.3V316.9M145.8 312.12L149.77 316.08M145.8 316.08L149.77 312.12"/><circle cx="147.79" cy="314.1" r="1.26" fill="#ff0000" stroke="none"/><path d="M150.88 314.1H156.48M153.68 311.3V316.9M151.7 312.12L155.66 316.08M151.7 316.08L155.66 312.12"/><circle cx="153.68" cy="314.1" r="1.26" fill="#ff0000" stroke="none"/><path d="M156.77 314.1H162.38M159.57 311.3V316.9M157.59 312.12L161.56 316.08M157.59 316.08L161.56 312.12"/><circle cx="159.57" cy="314.1" r="1.26" fill="#ff0000" stroke="none"/><path d="M162.66 314.1H168.27M165.47 311.3V316.9M163.49 312.12L167.45 316.08M163.49 316.08L167.45 312.12"/><circle cx="165.47" cy="314.1" r="1.26" fill="#ff0000" stroke="none"/><path d="M168.56 314.1H174.17M171.36 311.3V316.9M169.38 312.12L173.34 316.08M169.38 316.08L173.34 312.12"/><circle cx="171.36" cy="314.1" r="1.26" fill="#ff0000" stroke="none"/><path d="M174.45 314.1H180.06M177.26 311.3V316.9M175.27 312.12L179.24 316.08M175.27 316.08L179.24 312.12"/><circle cx="177.26" cy="314.1" r="1.26" fill="#ff0000" stroke="none"/><path d="M180.35 314.1H185.95M183.15 311.3V316.9M181.17 312.12L185.13 316.08M181.17 316.08L185.13 312.12"/><circle cx="183.15" cy="314.1" r="1.26" fill="#ff0000" stroke="none"/><path d="M186.24 314.1H191.85M189.04 311.3V316.9M187.06 312.12L191.03 316.08M187.06 316.08L191.03 312.12"/><circle cx="189.04" cy="314.1" r="1.26" fill="#ff0000" stroke="none"/><path d="M192.13 314.1H197.74M194.94 311.3V316.9M192.96 312.12L196.92 316.08M192.96 316.08L196.92 312.12"/><circle cx="194.94" cy="314.1" r="1.26" fill="#ff0000" stroke="none"/><path d="M198.03 314.1H203.64M200.83 311.3V316.9M198.85 312.12L202.81 316.08M198.85 316.08L202.81 312.12"/><circle cx="200.83" cy="314.1" r="1.26" fill="#ff0000" stroke="none"/><path d="M203.92 314.1H209.53M206.73 311.3V316.9M204.74 312.12L208.71 316.08M204.74 316.08L208.71 312.12"/><circle cx="206.73" cy="314.1" r="1.26" fill="#ff0000" stroke="none"/><path d="M209.82 314.1H215.42M212.62 311.3V316.9M210.64 312.12L214.6 316.08M210.64 316.08L214.6 312.12"/><circle cx="212.62" cy="314.1" r="1.26" fill="#ff0000" stroke="none"/><path d="M215.71 314.1H221.32M218.51 311.3V316.9M216.53 312.12L220.5 316.08M216.53 316.08L220.5 312.12"/><circle cx="218.51" cy="314.1" r="1.26" fill="#ff0000" stroke="none"/><path d="M221.6 314.1H227.21M224.41 311.3V316.9M222.43 312.12L226.39 316.08M222.43 316.08L226.39 312.12"/><circle cx="224.41" cy="314.1" r="1.26" fill="#ff0000" stroke="none"/><path d="M227.5 314.1H233.11M230.3 311.3V316.9M228.32 312.12L232.28 316.08M228.32 316.08L232.28 312.12"/><circle cx="230.3" cy="314.1" r="1.26" fill="#ff0000" stroke="none"/><path d="M233.39 314.1H239M236.2 311.3V316.9M234.21 312.12L238.18 316.08M234.21 316.08L238.18 312.12"/><circle cx="236.2" cy="314.1" r="1.26" fill="#ff0000" stroke="none"/><path d="M239.29 314.1H244.89M242.09 311.3V316.9M240.11 312.12L244.07 316.08M240.11 316.08L244.07 312.12"/><circle cx="242.09" cy="314.1" r="1.26" fill="#ff0000" stroke="none"/><path d="M245.18 314.1H250.79M247.98 311.3V316.9M246 312.12L249.97 316.08M246 316.08L249.97 312.12"/><circle cx="247.98" cy="314.1" r="1.26" fill="#ff0000" stroke="none"/><path d="M251.07 314.1H256.68M253.88 311.3V316.9M251.9 312.12L255.86 316.08M251.9 316.08L255.86 312.12"/><circle cx="253.88" cy="314.1" r="1.26" fill="#ff0000" stroke="none"/><path d="M256.97 314.1H262.58M259.77 311.3V316.9M257.79 312.12L261.75 316.08M257.79 316.08L261.75 312.12"/><circle cx="259.77" cy="314.1" r="1.26" fill="#ff0000" stroke="none"/><path d="M262.86 314.1H268.47M265.67 311.3V316.9M263.68 312.12L267.65 316.08M263.68 316.08L267.65 312.12"/><circle cx="265.67" cy="314.1" r="1.26" fill="#ff0000" stroke="none"/><path d="M268.76 314.1H274.36M271.56 311.3V316.9M269.58 312.12L273.54 316.08M269.58 316.08L273.54 312.12"/><circle cx="271.56" cy="314.1" r="1.26" fill="#ff0000" stroke="none"/><path d="M274.65 314.1H280.26M277.45 311.3V316.9M275.47 312.12L279.44 316.08M275.47 316.08L279.44 312.12"/><circle cx="277.45" cy="314.1" r="1.26" fill="#ff0000" stroke="none"/><path d="M280.54 314.1H286.15M283.35 311.3V316.9M281.37 312.12L285.33 316.08M281.37 316.08L285.33 312.12"/><circle cx="283.35" cy="314.1" r="1.26" fill="#ff0000" stroke="none"/><path d="M286.44 314.1H292.05M289.24 311.3V316.9M287.26 312.12L291.22 316.08M287.26 316.08L291.22 312.12"/><circle cx="289.24" cy="314.1" r="1.26" fill="#ff0000" stroke="none"/><path d="M292.33 314.1H297.94M295.14 311.3V316.9M293.15 312.12L297.12 316.08M293.15 316.08L297.12 312.12"/><circle cx="295.14" cy="314.1" r="1.26" fill="#ff0000" stroke="none"/><path d="M298.23 314.1H303.83M301.03 311.3V316.9M299.05 312.12L303.01 316.08M299.05 316.08L303.01 312.12"/><circle cx="301.03" cy="314.1" r="1.26" fill="#ff0000" stroke="none"/><path d="M304.12 314.1H309.73M306.92 311.3V316.9M304.94 312.12L308.91 316.08M304.94 316.08L308.91 312.12"/><circle cx="306.92" cy="314.1" r="1.26" fill="#ff0000" stroke="none"/><path d="M310.01 314.1H315.62M312.82 311.3V316.9M310.84 312.12L314.8 316.08M310.84 316.08L314.8 312.12"/><circle cx="312.82" cy="314.1" r="1.26" fill="#ff0000" stroke="none"/><path d="M315.91 314.1H321.52M318.71 311.3V316.9M316.73 312.12L320.69 316.08M316.73 316.08L320.69 312.12"/><circle cx="318.71" cy="314.1" r="1.26" fill="#ff0000" stroke="none"/><path d="M321.8 314.1H327.41M324.61 311.3V316.9M322.62 312.12L326.59 316.08M322.62 316.08L326.59 312.12"/><circle cx="324.61" cy="314.1" r="1.26" fill="#ff0000" stroke="none"/><path d="M327.7 314.1H333.3M330.5 311.3V316.9M328.52 312.12L332.48 316.08M328.52 316.08L332.48 312.12"/><circle cx="330.5" cy="314.1" r="1.26" fill="#ff0000" stroke="none"/></g>
</g>
<g fill="none" stroke="#000000"><path stroke-width="0.7" d="M35.8 360.58L41.69 357.62L47.59 353.6L53.48 349.88L59.38 346.45L65.27 343.3L71.16 340.42L77.06 337.79L82.95 335.39L88.85 333.22L94.74 331.25L100.63 329.46L106.53 327.86L112.42 326.41L118.32 325.1L124.21 323.93L130.1 322.88L136 321.93L141.89 321.09L147.79 320.33L153.68 319.65L159.57 319.05L165.47 318.51L171.36 318.03L177.26 317.59L183.15 317.21L189.04 316.87L194.94 316.56L200.83 316.29L206.73 316.05L212.62 315.83L218.51 315.64L224.41 315.47L230.3 315.32L236.2 315.19L242.09 315.06L247.98 314.96L253.88 314.86L259.77 314.78L265.67 314.7L271.56 314.64L277.45 314.58L283.35 314.52L289.24 314.48L295.14 314.43L301.03 314.4L306.92 314.36L312.82 314.33L318.71 314.31L324.61 314.29L330.5 314.26"/>
<g stroke-width="0.7"><path d="M33.77 357.58L39.18 360.58L33.77 363.58Z"/><path d="M39.66 354.62L45.08 357.62L39.66 360.61Z"/><path d="M45.56 350.6L50.97 353.6L45.56 356.59Z"/><path d="M51.45 346.88L56.87 349.88L51.45 352.87Z"/><path d="M57.35 343.45L62.76 346.45L57.35 349.45Z"/><path d="M63.24 340.3L68.65 343.3L63.24 346.3Z"/><path d="M69.13 337.42L74.55 340.42L69.13 343.42Z"/><path d="M75.03 334.79L80.44 337.79L75.03 340.79Z"/><path d="M80.92 332.4L86.34 335.39L80.92 338.39Z"/><path d="M86.82 330.22L92.23 333.22L86.82 336.22Z"/><path d="M92.71 328.25L98.12 331.25L92.71 334.24Z"/><path d="M98.6 326.47L104.02 329.46L98.6 332.46Z"/><path d="M104.5 324.86L109.91 327.86L104.5 330.85Z"/><path d="M110.39 323.41L115.81 326.41L110.39 329.4Z"/><path d="M116.29 322.1L121.7 325.1L116.29 328.1Z"/><path d="M122.18 320.93L127.59 323.93L122.18 326.93Z"/><path d="M128.07 319.88L133.49 322.88L128.07 325.87Z"/><path d="M133.97 318.93L139.38 321.93L133.97 324.93Z"/><path d="M139.86 318.09L145.28 321.09L139.86 324.08Z"/><path d="M145.76 317.33L151.17 320.33L145.76 323.33Z"/><path d="M151.65 316.65L157.06 319.65L151.65 322.65Z"/><path d="M157.54 316.05L162.96 319.05L157.54 322.05Z"/><path d="M163.44 315.51L168.85 318.51L163.44 321.51Z"/><path d="M169.33 315.03L174.75 318.03L169.33 321.02Z"/><path d="M175.23 314.6L180.64 317.59L175.23 320.59Z"/><path d="M181.12 314.21L186.53 317.21L181.12 320.21Z"/><path d="M187.01 313.87L192.43 316.87L187.01 319.87Z"/><path d="M192.91 313.57L198.32 316.56L192.91 319.56Z"/><path d="M198.8 313.29L204.22 316.29L198.8 319.29Z"/><path d="M204.7 313.05L210.11 316.05L204.7 319.05Z"/><path d="M210.59 312.84L216 315.83L210.59 318.83Z"/><path d="M216.48 312.65L221.9 315.64L216.48 318.64Z"/><path d="M222.38 312.47L227.79 315.47L222.38 318.47Z"/><path d="M228.27 312.32L233.69 315.32L228.27 318.32Z"/><path d="M234.17 312.19L239.58 315.19L234.17 318.18Z"/><path d="M240.06 312.07L245.47 315.06L240.06 318.06Z"/><path d="M245.95 311.96L251.37 314.96L245.95 317.96Z"/><path d="M251.85 311.87L257.26 314.86L251.85 317.86Z"/><path d="M257.74 311.78L263.16 314.78L257.74 317.78Z"/><path d="M263.64 311.71L269.05 314.7L263.64 317.7Z"/><path d="M269.53 311.64L274.94 314.64L269.53 317.63Z"/><path d="M275.42 311.58L280.84 314.58L275.42 317.57Z"/><path d="M281.32 311.53L286.73 314.52L281.32 317.52Z"/><path d="M287.21 311.48L292.63 314.48L287.21 317.47Z"/><path d="M293.11 311.44L298.52 314.43L293.11 317.43Z"/><path d="M299 311.4L304.41 314.4L299 317.4Z"/><path d="M304.89 311.37L310.31 314.36L304.89 317.36Z"/><path d="M310.79 311.34L316.2 314.33L310.79 317.33Z"/><path d="M316.68 311.31L322.1 314.31L316.68 317.31Z"/><path d="M322.58 311.29L327.99 314.29L322.58 317.28Z"/><path d="M328.47 311.27L333.88 314.26L328.47 317.26Z"/></g>
</g>
<rect x="252.2" y="323.3" width="69.7" height="35.8" fill="#fff" stroke="#262626" stroke-width="0.6"/>
<g fill="none" stroke="#0072bd" stroke-width="0.7"><path d="M255.02 330.1H275.11"/><circle cx="265.01" cy="330.1" r="2.71"/></g>
<text x="277.92" y="333.01" font-size="8.15" fill="#000">E-platform</text>
<g fill="none" stroke="#ff0000" stroke-width="0.7"><path d="M255.02 341.38H275.11"/><path d="M262.21 341.38H267.82M265.01 338.57V344.18M263.03 339.4L267 343.36M263.03 343.36L267 339.4"/><circle cx="265.01" cy="341.38" r="1.26" fill="#ff0000" stroke="none"/></g>
<text x="277.92" y="344.29" font-size="8.15" fill="#000">Consumer</text>
<g fill="none" stroke="#000000" stroke-width="0.7"><path d="M255.02 352.66H275.11"/><path d="M262.98 349.66L268.4 352.66L262.98 355.65Z"/></g>
<text x="277.92" y="355.57" font-size="8.15" fill="#000">E-company</text>
<g fill="none" stroke="#6b6b6b" stroke-width="1">
<rect x="394.5" y="313.5" width="286" height="226"/>
<path d="M394.5 539.5v-2.82M394.5 313.5v2.82M423.1 539.5v-2.82M423.1 313.5v2.82M451.7 539.5v-2.82M451.7 313.5v2.82M480.3 539.5v-2.82M480.3 313.5v2.82M508.9 539.5v-2.82M508.9 313.5v2.82M537.5 539.5v-2.82M537.5 313.5v2.82M566.1 539.5v-2.82M566.1 313.5v2.82M594.7 539.5v-2.82M594.7 313.5v2.82M623.3 539.5v-2.82M623.3 313.5v2.82M651.9 539.5v-2.82M651.9 313.5v2.82M680.5 539.5v-2.82M680.5 313.5v2.82M394.5 539.5h2.82M680.5 539.5h-2.82M394.5 516.9h2.82M680.5 516.9h-2.82M394.5 494.3h2.82M680.5 494.3h-2.82M394.5 471.7h2.82M680.5 471.7h-2.82M394.5 449.1h2.82M680.5 449.1h-2.82M394.5 426.5h2.82M680.5 426.5h-2.82M394.5 403.9h2.82M680.5 403.9h-2.82M394.5 381.3h2.82M680.5 381.3h-2.82M394.5 358.7h2.82M680.5 358.7h-2.82M394.5 336.1h2.82M680.5 336.1h-2.82M394.5 313.5h2.82M680.5 313.5h-2.82"/>
</g>
<g font-size="9.21" fill="#262626">
<g text-anchor="middle">
<text x="394.5" y="552.47">0</text>
<text x="423.1" y="552.47">5</text>
<text x="451.7" y="552.47">10</text>
<text x="480.3" y="552.47">15</text>
<text x="508.9" y="552.47">20</text>
<text x="537.5" y="552.47">25</text>
<text x="566.1" y="552.47">30</text>
<text x="594.7" y="552.47">35</text>
<text x="623.3" y="552.47">40</text>
<text x="651.9" y="552.47">45</text>
<text x="680.5" y="552.47">50</text>
</g><g text-anchor="end">
<text x="391.06" y="542.6">0</text>
<text x="391.06" y="520">0.1</text>
<text x="391.06" y="497.4">0.2</text>
<text x="391.06" y="474.8">0.3</text>
<text x="391.06" y="452.2">0.4</text>
<text x="391.06" y="429.6">0.5</text>
<text x="391.06" y="407">0.6</text>
<text x="391.06" y="384.4">0.7</text>
<text x="391.06" y="361.8">0.8</text>
<text x="391.06" y="339.2">0.9</text>
<text x="391.06" y="316.6">1</text>
</g></g>
<g font-size="10.14" fill="#262626" text-anchor="middle">
<text x="538.1" y="566.29">t<tspan dx="-1.13">（</tspan><tspan dx="1.79">Time）</tspan></text>
<text transform="translate(372.55 425.9) rotate(-90)">p<tspan dx="-1.13">（</tspan><tspan dx="1.79">probability）</tspan></text>
</g>
<text x="537.5"  y="308.89" font-size="9.81" fill="#000" text-anchor="middle">F=0.8,<tspan font-style="italic">θ</tspan>=0.1</text>
<g fill="none" stroke="#0072bd"><path stroke-width="0.68" d="M394.5 494.3L400.22 406.16L405.94 340.17L411.66 319.83L417.38 314.4L423.1 313.51L428.82 313.51L434.54 313.51L440.26 313.51L445.98 313.52L451.7 313.52L457.42 313.52L463.14 313.53L468.86 313.54L474.58 313.54L480.3 313.55L486.02 313.57L491.74 313.58L497.46 313.6L503.18 313.62L508.9 313.65L514.62 313.68L520.34 313.72L526.06 313.77L531.78 313.83L537.5 313.9L543.22 313.99L548.94 314.1L554.66 314.23L560.38 314.39L566.1 314.59L571.82 314.83L577.54 315.12L583.26 315.47L588.98 315.9L594.7 316.43L600.42 317.07L606.14 317.84L611.86 318.78L617.58 319.92L623.3 321.29L629.02 322.94L634.74 324.92L640.46 327.3L646.18 330.13L651.9 333.48L657.62 337.44L663.34 342.07L669.06 347.45L674.78 353.63L680.5 360.66"/>
<g stroke-width="0.68"><circle cx="394.5" cy="494.3" r="2.63"/><circle cx="400.22" cy="406.16" r="2.63"/><circle cx="405.94" cy="340.17" r="2.63"/><circle cx="411.66" cy="319.83" r="2.63"/><circle cx="417.38" cy="314.4" r="2.63"/><circle cx="423.1" cy="313.51" r="2.63"/><circle cx="428.82" cy="313.51" r="2.63"/><circle cx="434.54" cy="313.51" r="2.63"/><circle cx="440.26" cy="313.51" r="2.63"/><circle cx="445.98" cy="313.52" r="2.63"/><circle cx="451.7" cy="313.52" r="2.63"/><circle cx="457.42" cy="313.52" r="2.63"/><circle cx="463.14" cy="313.53" r="2.63"/><circle cx="468.86" cy="313.54" r="2.63"/><circle cx="474.58" cy="313.54" r="2.63"/><circle cx="480.3" cy="313.55" r="2.63"/><circle cx="486.02" cy="313.57" r="2.63"/><circle cx="491.74" cy="313.58" r="2.63"/><circle cx="497.46" cy="313.6" r="2.63"/><circle cx="503.18" cy="313.62" r="2.63"/><circle cx="508.9" cy="313.65" r="2.63"/><circle cx="514.62" cy="313.68" r="2.63"/><circle cx="520.34" cy="313.72" r="2.63"/><circle cx="526.06" cy="313.77" r="2.63"/><circle cx="531.78" cy="313.83" r="2.63"/><circle cx="537.5" cy="313.9" r="2.63"/><circle cx="543.22" cy="313.99" r="2.63"/><circle cx="548.94" cy="314.1" r="2.63"/><circle cx="554.66" cy="314.23" r="2.63"/><circle cx="560.38" cy="314.39" r="2.63"/><circle cx="566.1" cy="314.59" r="2.63"/><circle cx="571.82" cy="314.83" r="2.63"/><circle cx="577.54" cy="315.12" r="2.63"/><circle cx="583.26" cy="315.47" r="2.63"/><circle cx="588.98" cy="315.9" r="2.63"/><circle cx="594.7" cy="316.43" r="2.63"/><circle cx="600.42" cy="317.07" r="2.63"/><circle cx="606.14" cy="317.84" r="2.63"/><circle cx="611.86" cy="318.78" r="2.63"/><circle cx="617.58" cy="319.92" r="2.63"/><circle cx="623.3" cy="321.29" r="2.63"/><circle cx="629.02" cy="322.94" r="2.63"/><circle cx="634.74" cy="324.92" r="2.63"/><circle cx="640.46" cy="327.3" r="2.63"/><circle cx="646.18" cy="330.13" r="2.63"/><circle cx="651.9" cy="333.48" r="2.63"/><circle cx="657.62" cy="337.44" r="2.63"/><circle cx="663.34" cy="342.07" r="2.63"/><circle cx="669.06" cy="347.45" r="2.63"/><circle cx="674.78" cy="353.63" r="2.63"/><circle cx="680.5" cy="360.66" r="2.63"/></g>
</g>
<g fill="none" stroke="#000000"><path stroke-width="0.68" d="M394.5 494.3L400.22 501.35L405.94 490.28L411.66 474.73L417.38 454.98L423.1 432.9L428.82 410.97L434.54 388.6L440.26 369.77L445.98 354.93L451.7 343.38L457.42 334.68L463.14 328.08L468.86 323.35L474.58 320.05L480.3 317.7L486.02 316.05L491.74 315.08L497.46 314.52L503.18 314.17L508.9 313.95"/>
<g stroke-width="0.68"><path d="M392.53 491.39L397.79 494.3L392.53 497.21Z"/><path d="M398.25 498.44L403.51 501.35L398.25 504.27Z"/><path d="M403.97 487.36L409.23 490.28L403.97 493.19Z"/><path d="M409.69 471.81L414.95 474.73L409.69 477.64Z"/><path d="M415.41 452.06L420.67 454.98L415.41 457.89Z"/><path d="M421.13 429.98L426.39 432.9L421.13 435.81Z"/><path d="M426.85 408.06L432.11 410.97L426.85 413.89Z"/><path d="M432.57 385.69L437.83 388.6L432.57 391.51Z"/><path d="M438.29 366.86L443.55 369.77L438.29 372.69Z"/><path d="M444.01 352.01L449.27 354.93L444.01 357.84Z"/><path d="M449.73 340.46L454.99 343.38L449.73 346.29Z"/><path d="M455.45 331.76L460.71 334.68L455.45 337.59Z"/><path d="M461.17 325.16L466.43 328.08L461.17 330.99Z"/><path d="M466.89 320.44L472.15 323.35L466.89 326.27Z"/><path d="M472.61 317.14L477.87 320.05L472.61 322.97Z"/><path d="M478.33 314.79L483.59 317.7L478.33 320.62Z"/><path d="M484.05 313.14L489.31 316.05L484.05 318.97Z"/><path d="M489.77 312.17L495.03 315.08L489.77 318Z"/><path d="M495.49 311.6L500.75 314.52L495.49 317.43Z"/><path d="M501.21 311.25L506.47 314.17L501.21 317.08Z"/></g>
</g>
<g fill="none" stroke="#ff0000"><path stroke-width="0.68" d="M394.5 494.3L400.22 349.66L405.94 315.76L411.66 313.73"/>
<g stroke-width="0.55"><path d="M391.77 494.3H397.23M394.5 491.57V497.03M392.57 492.37L396.43 496.23M392.57 496.23L396.43 492.37"/><circle cx="394.5" cy="494.3" r="1.22" fill="#ff0000" stroke="none"/><path d="M397.49 349.66H402.95M400.22 346.93V352.39M398.29 347.73L402.15 351.59M398.29 351.59L402.15 347.73"/><circle cx="400.22" cy="349.66" r="1.22" fill="#ff0000" stroke="none"/><path d="M403.21 315.76H408.67M405.94 313.03V318.49M404.01 313.83L407.87 317.69M404.01 317.69L407.87 313.83"/><circle cx="405.94" cy="315.76" r="1.22" fill="#ff0000" stroke="none"/></g>
</g>
<g fill="none" stroke="#0000ff"><path stroke-width="0.68" d="M394.5 426.5L400.22 375.76L405.94 345.82L411.66 333.25L417.38 327.85L423.1 325.03L428.82 322.88L434.54 321.95L440.26 321.95L445.98 322.99L451.7 324.57L457.42 326.38L463.14 328.53L468.86 331.35L474.58 334.43L480.3 337.91L486.02 342.2L491.74 347.4L497.46 353.73L503.18 361.41L508.9 369.77L514.62 379.04L520.34 388.76L526.06 398.93L531.78 409.39L537.5 420.26L543.22 431.47L548.94 442.77L554.66 453.62L560.38 463.79L566.1 473.51L571.82 482.55L577.54 490.73L583.26 497.92L588.98 504.24L594.7 509.89L600.42 514.73L606.14 518.84L611.86 522.21L617.58 525.26L623.3 527.52L629.02 529.56L634.74 531.21L640.46 532.72L646.18 533.85L651.9 534.75L657.62 535.52L663.34 536.11L669.06 536.65L674.78 537.01L680.5 537.4"/>
<g stroke-width="0.68"><circle cx="394.5" cy="426.5" r="2.63"/><circle cx="400.22" cy="375.76" r="2.63"/><circle cx="405.94" cy="345.82" r="2.63"/><circle cx="411.66" cy="333.25" r="2.63"/><circle cx="417.38" cy="327.85" r="2.63"/><circle cx="423.1" cy="325.03" r="2.63"/><circle cx="428.82" cy="322.88" r="2.63"/><circle cx="434.54" cy="321.95" r="2.63"/><circle cx="440.26" cy="321.95" r="2.63"/><circle cx="445.98" cy="322.99" r="2.63"/><circle cx="451.7" cy="324.57" r="2.63"/><circle cx="457.42" cy="326.38" r="2.63"/><circle cx="463.14" cy="328.53" r="2.63"/><circle cx="468.86" cy="331.35" r="2.63"/><circle cx="474.58" cy="334.43" r="2.63"/><circle cx="480.3" cy="337.91" r="2.63"/><circle cx="486.02" cy="342.2" r="2.63"/><circle cx="491.74" cy="347.4" r="2.63"/><circle cx="497.46" cy="353.73" r="2.63"/><circle cx="503.18" cy="361.41" r="2.63"/><circle cx="508.9" cy="369.77" r="2.63"/><circle cx="514.62" cy="379.04" r="2.63"/><circle cx="520.34" cy="388.76" r="2.63"/><circle cx="526.06" cy="398.93" r="2.63"/><circle cx="531.78" cy="409.39" r="2.63"/><circle cx="537.5" cy="420.26" r="2.63"/><circle cx="543.22" cy="431.47" r="2.63"/><circle cx="548.94" cy="442.77" r="2.63"/><circle cx="554.66" cy="453.62" r="2.63"/><circle cx="560.38" cy="463.79" r="2.63"/><circle cx="566.1" cy="473.51" r="2.63"/><circle cx="571.82" cy="482.55" r="2.63"/><circle cx="577.54" cy="490.73" r="2.63"/><circle cx="583.26" cy="497.92" r="2.63"/><circle cx="588.98" cy="504.24" r="2.63"/><circle cx="594.7" cy="509.89" r="2.63"/><circle cx="600.42" cy="514.73" r="2.63"/><circle cx="606.14" cy="518.84" r="2.63"/><circle cx="611.86" cy="522.21" r="2.63"/><circle cx="617.58" cy="525.26" r="2.63"/><circle cx="623.3" cy="527.52" r="2.63"/><circle cx="629.02" cy="529.56" r="2.63"/><circle cx="634.74" cy="531.21" r="2.63"/><circle cx="640.46" cy="532.72" r="2.63"/><circle cx="646.18" cy="533.85" r="2.63"/><circle cx="651.9" cy="534.75" r="2.63"/><circle cx="657.62" cy="535.52" r="2.63"/><circle cx="663.34" cy="536.11" r="2.63"/><circle cx="669.06" cy="536.65" r="2.63"/><circle cx="674.78" cy="537.01" r="2.63"/><circle cx="680.5" cy="537.4" r="2.63"/></g>
</g>
<g fill="none" stroke="#000000"><path stroke-width="0.68" d="M394.5 426.5L400.22 420.85L405.94 401.07L411.66 382.2L417.38 365.03L423.1 351.15L428.82 340.39L434.54 332.55L440.26 326.68L445.98 322.65L451.7 319.6L457.42 317.7L463.14 316.28L468.86 315.35L474.58 314.79"/>
<g stroke-width="0.68"><path d="M392.53 423.59L397.79 426.5L392.53 429.41Z"/><path d="M398.25 417.94L403.51 420.85L398.25 423.76Z"/><path d="M403.97 398.16L409.23 401.07L403.97 403.99Z"/><path d="M409.69 379.29L414.95 382.2L409.69 385.12Z"/><path d="M415.41 362.11L420.67 365.03L415.41 367.94Z"/><path d="M421.13 348.24L426.39 351.15L421.13 354.07Z"/><path d="M426.85 337.48L432.11 340.39L426.85 343.31Z"/><path d="M432.57 329.64L437.83 332.55L432.57 335.47Z"/><path d="M438.29 323.76L443.55 326.68L438.29 329.59Z"/><path d="M444.01 319.74L449.27 322.65L444.01 325.57Z"/><path d="M449.73 316.69L454.99 319.6L449.73 322.52Z"/><path d="M455.45 314.79L460.71 317.7L455.45 320.62Z"/><path d="M461.17 313.37L466.43 316.28L461.17 319.19Z"/><path d="M466.89 312.44L472.15 315.35L466.89 318.27Z"/></g>
</g>
<g fill="none" stroke="#ff0000"><path stroke-width="0.68" d="M394.5 426.5L400.22 323.67L405.94 313.95L411.66 313.5"/>
<g stroke-width="0.55"><path d="M391.77 426.5H397.23M394.5 423.77V429.23M392.57 424.57L396.43 428.43M392.57 428.43L396.43 424.57"/><circle cx="394.5" cy="426.5" r="1.22" fill="#ff0000" stroke="none"/><path d="M397.49 323.67H402.95M400.22 320.94V326.4M398.29 321.74L402.15 325.6M398.29 325.6L402.15 321.74"/><circle cx="400.22" cy="323.67" r="1.22" fill="#ff0000" stroke="none"/><path d="M403.21 313.95H408.67M405.94 311.23V316.68M404.01 312.02L407.87 315.88M404.01 315.88L407.87 312.02"/><circle cx="405.94" cy="313.95" r="1.22" fill="#ff0000" stroke="none"/></g>
</g>
<g fill="none" stroke="#0000ff"><path stroke-width="0.68" d="M394.5 358.7L400.22 364.58L405.94 376.44L411.66 393.96L417.38 418.02L423.1 444.13L428.82 470.03L434.54 492.63L440.26 509.13L445.98 520.9L451.7 528.43L457.42 533.17L463.14 535.73L468.86 537.15L474.58 538.14L480.3 538.6L486.02 538.88L491.74 539.05L497.46 539.15L503.18 539.23L508.9 539.27L514.62 539.31L520.34 539.34L526.06 539.36L531.78 539.37L537.5 539.39L543.22 539.4L548.94 539.41L554.66 539.42L560.38 539.43L566.1 539.43L571.82 539.44L577.54 539.44L583.26 539.45L588.98 539.45L594.7 539.45L600.42 539.46L606.14 539.46L611.86 539.46L617.58 539.46L623.3 539.47L629.02 539.47L634.74 539.47L640.46 539.47L646.18 539.47L651.9 539.47L657.62 539.48L663.34 539.48L669.06 539.48L674.78 539.48L680.5 539.48"/>
<g stroke-width="0.68"><circle cx="394.5" cy="358.7" r="2.63"/><circle cx="400.22" cy="364.58" r="2.63"/><circle cx="405.94" cy="376.44" r="2.63"/><circle cx="411.66" cy="393.96" r="2.63"/><circle cx="417.38" cy="418.02" r="2.63"/><circle cx="423.1" cy="444.13" r="2.63"/><circle cx="428.82" cy="470.03" r="2.63"/><circle cx="434.54" cy="492.63" r="2.63"/><circle cx="440.26" cy="509.13" r="2.63"/><circle cx="445.98" cy="520.9" r="2.63"/><circle cx="451.7" cy="528.43" r="2.63"/><circle cx="457.42" cy="533.17" r="2.63"/><circle cx="463.14" cy="535.73" r="2.63"/><circle cx="468.86" cy="537.15" r="2.63"/><circle cx="474.58" cy="538.14" r="2.63"/><circle cx="480.3" cy="538.6" r="2.63"/><circle cx="486.02" cy="538.88" r="2.63"/><circle cx="491.74" cy="539.05" r="2.63"/><circle cx="497.46" cy="539.15" r="2.63"/><circle cx="503.18" cy="539.23" r="2.63"/><circle cx="508.9" cy="539.27" r="2.63"/><circle cx="514.62" cy="539.31" r="2.63"/><circle cx="520.34" cy="539.34" r="2.63"/><circle cx="526.06" cy="539.36" r="2.63"/><circle cx="531.78" cy="539.37" r="2.63"/><circle cx="537.5" cy="539.39" r="2.63"/><circle cx="543.22" cy="539.4" r="2.63"/><circle cx="548.94" cy="539.41" r="2.63"/><circle cx="554.66" cy="539.42" r="2.63"/><circle cx="560.38" cy="539.43" r="2.63"/><circle cx="566.1" cy="539.43" r="2.63"/><circle cx="571.82" cy="539.44" r="2.63"/><circle cx="577.54" cy="539.44" r="2.63"/><circle cx="583.26" cy="539.45" r="2.63"/><circle cx="588.98" cy="539.45" r="2.63"/><circle cx="594.7" cy="539.45" r="2.63"/><circle cx="600.42" cy="539.46" r="2.63"/><circle cx="606.14" cy="539.46" r="2.63"/><circle cx="611.86" cy="539.46" r="2.63"/><circle cx="617.58" cy="539.46" r="2.63"/><circle cx="623.3" cy="539.47" r="2.63"/><circle cx="629.02" cy="539.47" r="2.63"/><circle cx="634.74" cy="539.47" r="2.63"/><circle cx="640.46" cy="539.47" r="2.63"/><circle cx="646.18" cy="539.47" r="2.63"/><circle cx="651.9" cy="539.47" r="2.63"/><circle cx="657.62" cy="539.48" r="2.63"/><circle cx="663.34" cy="539.48" r="2.63"/><circle cx="669.06" cy="539.48" r="2.63"/><circle cx="674.78" cy="539.48" r="2.63"/><circle cx="680.5" cy="539.48" r="2.63"/></g>
</g>
<g fill="none" stroke="#000000"><path stroke-width="0.68" d="M394.5 358.7L400.22 349.28L405.94 340.17L411.66 333.25L417.38 327.38L423.1 324.57L428.82 322.18L434.54 320.53L440.26 319.15L445.98 317.85L451.7 316.78L457.42 315.95L463.14 315.35L468.86 314.95L474.58 314.65L480.3 314.4L486.02 314.19L491.74 314.01L497.46 313.88L503.18 313.79L508.9 313.73L514.62 313.68L520.34 313.65L526.06 313.62L531.78 313.6L537.5 313.58L543.22 313.56L548.94 313.55L554.66 313.54L560.38 313.54L566.1 313.53L571.82 313.52L577.54 313.52L583.26 313.52L588.98 313.51L594.7 313.51L600.42 313.51L606.14 313.51L611.86 313.51L617.58 313.51L623.3 313.51L629.02 313.51L634.74 313.5L640.46 313.5L646.18 313.5L651.9 313.5L657.62 313.5L663.34 313.5L669.06 313.5L674.78 313.5L680.5 313.5"/>
<g stroke-width="0.68"><path d="M392.53 355.79L397.79 358.7L392.53 361.61Z"/><path d="M398.25 346.36L403.51 349.28L398.25 352.19Z"/><path d="M403.97 337.25L409.23 340.17L403.97 343.08Z"/><path d="M409.69 330.34L414.95 333.25L409.69 336.17Z"/><path d="M415.41 324.46L420.67 327.38L415.41 330.29Z"/><path d="M421.13 321.66L426.39 324.57L421.13 327.49Z"/><path d="M426.85 319.26L432.11 322.18L426.85 325.09Z"/><path d="M432.57 317.61L437.83 320.53L432.57 323.44Z"/><path d="M438.29 316.24L443.55 319.15L438.29 322.06Z"/><path d="M444.01 314.93L449.27 317.85L444.01 320.76Z"/><path d="M449.73 313.86L454.99 316.78L449.73 319.69Z"/><path d="M455.45 313.04L460.71 315.95L455.45 318.87Z"/><path d="M461.17 312.44L466.43 315.35L461.17 318.27Z"/><path d="M466.89 312.04L472.15 314.95L466.89 317.86Z"/></g>
<g stroke-width="0.85"><path d="M472.61 311.74L477.87 314.65L472.61 317.56Z"/><path d="M478.33 311.49L483.59 314.4L478.33 317.32Z"/><path d="M484.05 311.27L489.31 314.19L484.05 317.1Z"/><path d="M489.77 311.1L495.03 314.01L489.77 316.93Z"/><path d="M495.49 310.97L500.75 313.88L495.49 316.79Z"/><path d="M501.21 310.87L506.47 313.79L501.21 316.7Z"/></g>
<g stroke-width="1.02"><path d="M506.93 310.81L512.19 313.73L506.93 316.64Z"/><path d="M512.65 310.77L517.91 313.68L512.65 316.6Z"/><path d="M518.37 310.73L523.63 313.65L518.37 316.56Z"/><path d="M524.09 310.71L529.35 313.62L524.09 316.53Z"/><path d="M529.81 310.68L535.07 313.6L529.81 316.51Z"/><path d="M535.53 310.67L540.79 313.58L535.53 316.49Z"/><path d="M541.25 310.65L546.51 313.56L541.25 316.48Z"/><path d="M546.97 310.64L552.23 313.55L546.97 316.47Z"/><path d="M552.69 310.63L557.95 313.54L552.69 316.46Z"/><path d="M558.41 310.62L563.67 313.54L558.41 316.45Z"/><path d="M564.13 310.62L569.39 313.53L564.13 316.44Z"/><path d="M569.85 310.61L575.11 313.52L569.85 316.44Z"/><path d="M575.57 310.61L580.83 313.52L575.57 316.43Z"/><path d="M581.29 310.6L586.55 313.52L581.29 316.43Z"/><path d="M587.01 310.6L592.27 313.51L587.01 316.43Z"/><path d="M592.73 310.6L597.99 313.51L592.73 316.43Z"/><path d="M598.45 310.6L603.71 313.51L598.45 316.42Z"/><path d="M604.17 310.59L609.43 313.51L604.17 316.42Z"/><path d="M609.89 310.59L615.15 313.51L609.89 316.42Z"/><path d="M615.61 310.59L620.87 313.51L615.61 316.42Z"/><path d="M621.33 310.59L626.59 313.51L621.33 316.42Z"/><path d="M627.05 310.59L632.31 313.51L627.05 316.42Z"/><path d="M632.77 310.59L638.03 313.5L632.77 316.42Z"/><path d="M638.49 310.59L643.75 313.5L638.49 316.42Z"/><path d="M644.21 310.59L649.47 313.5L644.21 316.42Z"/><path d="M649.93 310.59L655.19 313.5L649.93 316.42Z"/><path d="M655.65 310.59L660.91 313.5L655.65 316.42Z"/><path d="M661.37 310.59L666.63 313.5L661.37 316.42Z"/><path d="M667.09 310.59L672.35 313.5L667.09 316.42Z"/><path d="M672.81 310.59L678.07 313.5L672.81 316.42Z"/><path d="M678.53 310.59L683.79 313.5L678.53 316.42Z"/></g>
</g>
<g fill="none" stroke="#ff0000"><path stroke-width="0.68" d="M394.5 358.7L400.22 315.08L405.94 313.5"/>
<g stroke-width="0.55"><path d="M391.77 358.7H397.23M394.5 355.97V361.43M392.57 356.77L396.43 360.63M392.57 360.63L396.43 356.77"/><circle cx="394.5" cy="358.7" r="1.22" fill="#ff0000" stroke="none"/><path d="M397.49 315.08H402.95M400.22 312.36V317.81M398.29 313.15L402.15 317.01M398.29 317.01L402.15 313.15"/><circle cx="400.22" cy="315.08" r="1.22" fill="#ff0000" stroke="none"/><path d="M403.21 313.5H408.67M405.94 310.77V316.23M404.01 311.57L407.87 315.43M404.01 315.43L407.87 311.57"/><circle cx="405.94" cy="313.5" r="1.22" fill="#ff0000" stroke="none"/></g>
<g stroke-width="0.82"><path d="M408.93 313.5H414.39M411.66 310.77V316.23M409.73 311.57L413.59 315.43M409.73 315.43L413.59 311.57"/><circle cx="411.66" cy="313.5" r="1.22" fill="#ff0000" stroke="none"/><path d="M414.65 313.5H420.11M417.38 310.77V316.23M415.45 311.57L419.31 315.43M415.45 315.43L419.31 311.57"/><circle cx="417.38" cy="313.5" r="1.22" fill="#ff0000" stroke="none"/><path d="M426.09 313.5H431.55M428.82 310.77V316.23M426.89 311.57L430.75 315.43M426.89 315.43L430.75 311.57"/><circle cx="428.82" cy="313.5" r="1.22" fill="#ff0000" stroke="none"/><path d="M431.81 313.5H437.27M434.54 310.77V316.23M432.61 311.57L436.47 315.43M432.61 315.43L436.47 311.57"/><circle cx="434.54" cy="313.5" r="1.22" fill="#ff0000" stroke="none"/><path d="M437.53 313.5H442.99M440.26 310.77V316.23M438.33 311.57L442.19 315.43M438.33 315.43L442.19 311.57"/><circle cx="440.26" cy="313.5" r="1.22" fill="#ff0000" stroke="none"/><path d="M443.25 313.5H448.71M445.98 310.77V316.23M444.05 311.57L447.91 315.43M444.05 315.43L447.91 311.57"/><circle cx="445.98" cy="313.5" r="1.22" fill="#ff0000" stroke="none"/><path d="M448.97 313.5H454.43M451.7 310.77V316.23M449.77 311.57L453.63 315.43M449.77 315.43L453.63 311.57"/><circle cx="451.7" cy="313.5" r="1.22" fill="#ff0000" stroke="none"/><path d="M454.69 313.5H460.15M457.42 310.77V316.23M455.49 311.57L459.35 315.43M455.49 315.43L459.35 311.57"/><circle cx="457.42" cy="313.5" r="1.22" fill="#ff0000" stroke="none"/><path d="M460.41 313.5H465.87M463.14 310.77V316.23M461.21 311.57L465.07 315.43M461.21 315.43L465.07 311.57"/><circle cx="463.14" cy="313.5" r="1.22" fill="#ff0000" stroke="none"/><path d="M466.13 313.5H471.59M468.86 310.77V316.23M466.93 311.57L470.79 315.43M466.93 315.43L470.79 311.57"/><circle cx="468.86" cy="313.5" r="1.22" fill="#ff0000" stroke="none"/><path d="M471.85 313.5H477.31M474.58 310.77V316.23M472.65 311.57L476.51 315.43M472.65 315.43L476.51 311.57"/><circle cx="474.58" cy="313.5" r="1.22" fill="#ff0000" stroke="none"/><path d="M477.57 313.5H483.03M480.3 310.77V316.23M478.37 311.57L482.23 315.43M478.37 315.43L482.23 311.57"/><circle cx="480.3" cy="313.5" r="1.22" fill="#ff0000" stroke="none"/><path d="M483.29 313.5H488.75M486.02 310.77V316.23M484.09 311.57L487.95 315.43M484.09 315.43L487.95 311.57"/><circle cx="486.02" cy="313.5" r="1.22" fill="#ff0000" stroke="none"/><path d="M489.01 313.5H494.47M491.74 310.77V316.23M489.81 311.57L493.67 315.43M489.81 315.43L493.67 311.57"/><circle cx="491.74" cy="313.5" r="1.22" fill="#ff0000" stroke="none"/><path d="M494.73 313.5H500.19M497.46 310.77V316.23M495.53 311.57L499.39 315.43M495.53 315.43L499.39 311.57"/><circle cx="497.46" cy="313.5" r="1.22" fill="#ff0000" stroke="none"/><path d="M500.45 313.5H505.91M503.18 310.77V316.23M501.25 311.57L505.11 315.43M501.25 315.43L505.11 311.57"/><circle cx="503.18" cy="313.5" r="1.22" fill="#ff0000" stroke="none"/><path d="M506.17 313.5H511.63M508.9 310.77V316.23M506.97 311.57L510.83 315.43M506.97 315.43L510.83 311.57"/><circle cx="508.9" cy="313.5" r="1.22" fill="#ff0000" stroke="none"/><path d="M511.89 313.5H517.35M514.62 310.77V316.23M512.69 311.57L516.55 315.43M512.69 315.43L516.55 311.57"/><circle cx="514.62" cy="313.5" r="1.22" fill="#ff0000" stroke="none"/><path d="M517.61 313.5H523.07M520.34 310.77V316.23M518.41 311.57L522.27 315.43M518.41 315.43L522.27 311.57"/><circle cx="520.34" cy="313.5" r="1.22" fill="#ff0000" stroke="none"/><path d="M523.33 313.5H528.79M526.06 310.77V316.23M524.13 311.57L527.99 315.43M524.13 315.43L527.99 311.57"/><circle cx="526.06" cy="313.5" r="1.22" fill="#ff0000" stroke="none"/><path d="M529.05 313.5H534.51M531.78 310.77V316.23M529.85 311.57L533.71 315.43M529.85 315.43L533.71 311.57"/><circle cx="531.78" cy="313.5" r="1.22" fill="#ff0000" stroke="none"/><path d="M534.77 313.5H540.23M537.5 310.77V316.23M535.57 311.57L539.43 315.43M535.57 315.43L539.43 311.57"/><circle cx="537.5" cy="313.5" r="1.22" fill="#ff0000" stroke="none"/><path d="M540.49 313.5H545.95M543.22 310.77V316.23M541.29 311.57L545.15 315.43M541.29 315.43L545.15 311.57"/><circle cx="543.22" cy="313.5" r="1.22" fill="#ff0000" stroke="none"/><path d="M551.93 313.5H557.39M554.66 310.77V316.23M552.73 311.57L556.59 315.43M552.73 315.43L556.59 311.57"/><circle cx="554.66" cy="313.5" r="1.22" fill="#ff0000" stroke="none"/><path d="M557.65 313.5H563.11M560.38 310.77V316.23M558.45 311.57L562.31 315.43M558.45 315.43L562.31 311.57"/><circle cx="560.38" cy="313.5" r="1.22" fill="#ff0000" stroke="none"/><path d="M563.37 313.5H568.83M566.1 310.77V316.23M564.17 311.57L568.03 315.43M564.17 315.43L568.03 311.57"/><circle cx="566.1" cy="313.5" r="1.22" fill="#ff0000" stroke="none"/><path d="M569.09 313.5H574.55M571.82 310.77V316.23M569.89 311.57L573.75 315.43M569.89 315.43L573.75 311.57"/><circle cx="571.82" cy="313.5" r="1.22" fill="#ff0000" stroke="none"/><path d="M574.81 313.5H580.27M577.54 310.77V316.23M575.61 311.57L579.47 315.43M575.61 315.43L579.47 311.57"/><circle cx="577.54" cy="313.5" r="1.22" fill="#ff0000" stroke="none"/><path d="M580.53 313.5H585.99M583.26 310.77V316.23M581.33 311.57L585.19 315.43M581.33 315.43L585.19 311.57"/><circle cx="583.26" cy="313.5" r="1.22" fill="#ff0000" stroke="none"/><path d="M586.25 313.5H591.71M588.98 310.77V316.23M587.05 311.57L590.91 315.43M587.05 315.43L590.91 311.57"/><circle cx="588.98" cy="313.5" r="1.22" fill="#ff0000" stroke="none"/><path d="M591.97 313.5H597.43M594.7 310.77V316.23M592.77 311.57L596.63 315.43M592.77 315.43L596.63 311.57"/><circle cx="594.7" cy="313.5" r="1.22" fill="#ff0000" stroke="none"/><path d="M597.69 313.5H603.15M600.42 310.77V316.23M598.49 311.57L602.35 315.43M598.49 315.43L602.35 311.57"/><circle cx="600.42" cy="313.5" r="1.22" fill="#ff0000" stroke="none"/><path d="M603.41 313.5H608.87M606.14 310.77V316.23M604.21 311.57L608.07 315.43M604.21 315.43L608.07 311.57"/><circle cx="606.14" cy="313.5" r="1.22" fill="#ff0000" stroke="none"/><path d="M609.13 313.5H614.59M611.86 310.77V316.23M609.93 311.57L613.79 315.43M609.93 315.43L613.79 311.57"/><circle cx="611.86" cy="313.5" r="1.22" fill="#ff0000" stroke="none"/><path d="M614.85 313.5H620.31M617.58 310.77V316.23M615.65 311.57L619.51 315.43M615.65 315.43L619.51 311.57"/><circle cx="617.58" cy="313.5" r="1.22" fill="#ff0000" stroke="none"/><path d="M620.57 313.5H626.03M623.3 310.77V316.23M621.37 311.57L625.23 315.43M621.37 315.43L625.23 311.57"/><circle cx="623.3" cy="313.5" r="1.22" fill="#ff0000" stroke="none"/><path d="M626.29 313.5H631.75M629.02 310.77V316.23M627.09 311.57L630.95 315.43M627.09 315.43L630.95 311.57"/><circle cx="629.02" cy="313.5" r="1.22" fill="#ff0000" stroke="none"/><path d="M632.01 313.5H637.47M634.74 310.77V316.23M632.81 311.57L636.67 315.43M632.81 315.43L636.67 311.57"/><circle cx="634.74" cy="313.5" r="1.22" fill="#ff0000" stroke="none"/><path d="M637.73 313.5H643.19M640.46 310.77V316.23M638.53 311.57L642.39 315.43M638.53 315.43L642.39 311.57"/><circle cx="640.46" cy="313.5" r="1.22" fill="#ff0000" stroke="none"/><path d="M643.45 313.5H648.91M646.18 310.77V316.23M644.25 311.57L648.11 315.43M644.25 315.43L648.11 311.57"/><circle cx="646.18" cy="313.5" r="1.22" fill="#ff0000" stroke="none"/><path d="M649.17 313.5H654.63M651.9 310.77V316.23M649.97 311.57L653.83 315.43M649.97 315.43L653.83 311.57"/><circle cx="651.9" cy="313.5" r="1.22" fill="#ff0000" stroke="none"/><path d="M660.61 313.5H666.07M663.34 310.77V316.23M661.41 311.57L665.27 315.43M661.41 315.43L665.27 311.57"/><circle cx="663.34" cy="313.5" r="1.22" fill="#ff0000" stroke="none"/><path d="M666.33 313.5H671.79M669.06 310.77V316.23M667.13 311.57L670.99 315.43M667.13 315.43L670.99 311.57"/><circle cx="669.06" cy="313.5" r="1.22" fill="#ff0000" stroke="none"/><path d="M672.05 313.5H677.51M674.78 310.77V316.23M672.85 311.57L676.71 315.43M672.85 315.43L676.71 311.57"/><circle cx="674.78" cy="313.5" r="1.22" fill="#ff0000" stroke="none"/><path d="M677.77 313.5H683.23M680.5 310.77V316.23M678.57 311.57L682.43 315.43M678.57 315.43L682.43 311.57"/><circle cx="680.5" cy="313.5" r="1.22" fill="#ff0000" stroke="none"/></g>
</g>
<rect x="604.4" y="322.5" width="67.8" height="34.5" fill="#fff" stroke="#262626" stroke-width="0.6"/>
<g fill="none" stroke="#0072bd" stroke-width="0.68"><path d="M607.14 329.06H626.69"/><circle cx="616.86" cy="329.06" r="2.63"/></g>
<text x="629.42" y="331.89" font-size="7.93" fill="#000">E-platform</text>
<g fill="none" stroke="#ff0000" stroke-width="0.68"><path d="M607.14 339.92H626.69"/><path d="M614.14 339.92H619.59M616.86 337.2V342.65M614.94 338L618.79 341.85M614.94 341.85L618.79 338"/><circle cx="616.86" cy="339.92" r="1.22" fill="#ff0000" stroke="none"/></g>
<text x="629.42" y="342.76" font-size="7.93" fill="#000">Consumer</text>
<g fill="none" stroke="#000000" stroke-width="0.68"><path d="M607.14 350.79H626.69"/><path d="M614.89 347.88L620.15 350.79L614.89 353.7Z"/></g>
<text x="629.42" y="353.62" font-size="7.93" fill="#000">E-company</text>
</svg>
</body></html>
